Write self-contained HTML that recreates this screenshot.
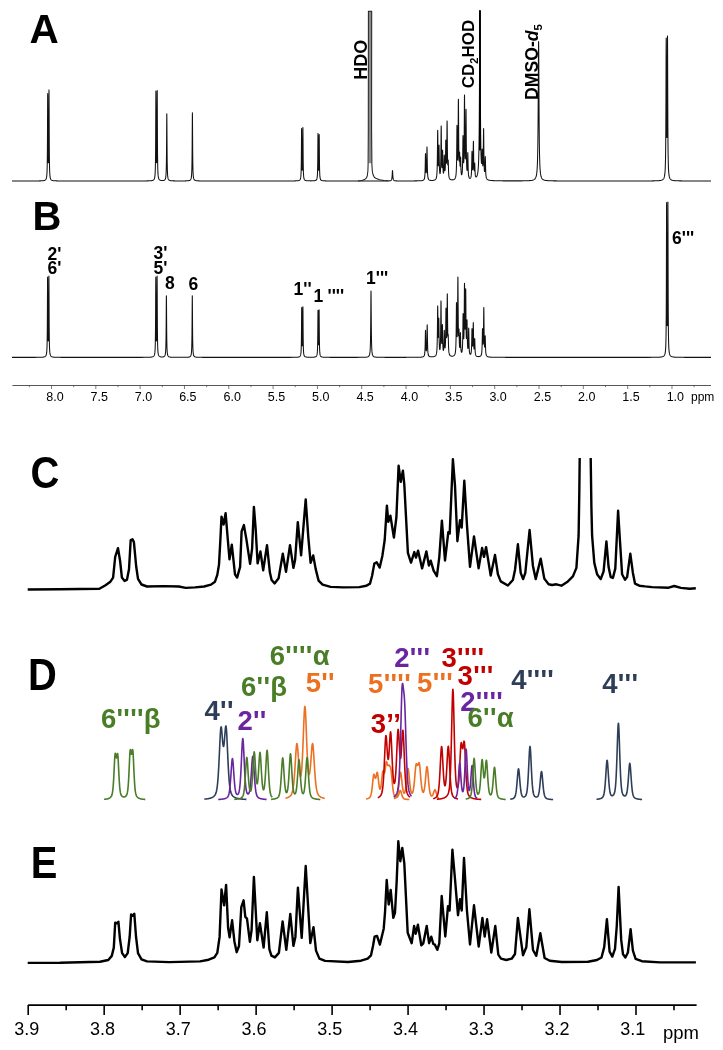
<!DOCTYPE html>
<html><head><meta charset="utf-8"><style>
html,body{margin:0;padding:0;background:#fff;}
svg{display:block;will-change:transform;}
text{font-family:"Liberation Sans",sans-serif;}
</style></head><body>
<svg width="723" height="1050" viewBox="0 0 723 1050">
<rect width="723" height="1050" fill="#fff"/>
<text x="29.6" y="42.5" font-size="40.5" font-weight="bold" fill="#000" text-anchor="start" >A</text>
<text x="32.6" y="229.9" font-size="40" font-weight="bold" fill="#000" text-anchor="start" >B</text>
<text transform="translate(30.6 487.8) scale(0.95 1.05)" font-size="42" font-weight="bold" fill="#000">C</text>
<text transform="translate(27.9 689.8) scale(0.95 1.05)" font-size="42" font-weight="bold" fill="#000">D</text>
<text transform="translate(30.8 877.5) scale(0.95 1.05)" font-size="42" font-weight="bold" fill="#000">E</text>
<path d="M12 180.99 L12.5 180.99 L13 180.99 L13.5 180.99 L14 180.99 L14.5 180.99 L15 180.99 L15.5 180.99 L16 180.99 L16.5 180.99 L17 180.99 L17.5 180.99 L18 180.99 L18.5 180.99 L19 180.99 L19.5 180.99 L20 180.99 L20.5 180.99 L21 180.99 L21.5 180.99 L22 180.99 L22.5 180.99 L23 180.99 L23.5 180.98 L24 180.98 L24.5 180.98 L25 180.98 L25.5 180.98 L26 180.98 L26.5 180.98 L27 180.98 L27.5 180.98 L28 180.98 L28.5 180.98 L29 180.98 L29.5 180.97 L30 180.97 L30.5 180.97 L31 180.97 L31.5 180.97 L32 180.97 L32.5 180.96 L33 180.96 L33.5 180.96 L34 180.96 L34.5 180.95 L35 180.95 L35.5 180.95 L36 180.94 L36.5 180.94 L37 180.93 L37.5 180.93 L38 180.92 L38.5 180.91 L39 180.9 L39.5 180.89 L40 180.88 L40.5 180.86 L41 180.84 L41.5 180.81 L42 180.78 L42.5 180.74 L43 180.69 L43.5 180.62 L44 180.53 L44.5 180.39 L44.77 180.28 L45 180.17 L45.5 179.81 L45.87 179.36 L46 179.12 L46.07 178.99 L46.23 178.57 L46.5 177.55 L46.53 177.41 L46.75 175.86 L46.8 175.33 L46.97 172.94 L47 172.29 L47.11 169.34 L47.17 167.36 L47.22 164.74 L47.33 157 L47.41 148.68 L47.48 136.66 L47.5 132.58 L47.53 125.1 L47.55 120.21 L47.59 110.87 L47.63 102.18 L47.66 95.97 L47.7 93.5 L47.74 95.7 L47.77 101.64 L47.81 110.04 L47.83 114.21 L47.85 119.1 L47.92 134.95 L47.99 146.3 L48 147.17 L48.05 152.13 L48.07 153.85 L48.18 160.17 L48.27 162.54 L48.29 162.81 L48.41 162.68 L48.43 162.36 L48.5 160.63 L48.52 159.76 L48.63 153.06 L48.65 151.26 L48.71 145.13 L48.78 133.24 L48.85 116.67 L48.87 111.56 L48.89 107.2 L48.93 98.42 L48.96 92.2 L49 89.9 L49.04 92.47 L49.07 98.94 L49.11 107.99 L49.15 117.73 L49.17 122.83 L49.22 134.89 L49.29 147.42 L49.37 156.09 L49.48 164.15 L49.5 165.35 L49.53 166.87 L49.59 168.93 L49.73 172.68 L49.9 175.15 L49.95 175.71 L50 176.13 L50.17 177.31 L50.47 178.51 L50.5 178.61 L50.63 178.94 L50.83 179.32 L51 179.56 L51.2 179.78 L51.5 180.03 L51.93 180.27 L52 180.3 L52.5 180.47 L53 180.58 L53.5 180.66 L54 180.72 L54.5 180.77 L55 180.8 L55.5 180.83 L56 180.85 L56.5 180.87 L57 180.88 L57.5 180.9 L58 180.91 L58.5 180.91 L59 180.92 L59.5 180.93 L60 180.93 L60.5 180.94 L61 180.94 L61.5 180.95 L62 180.95 L62.5 180.95 L63 180.96 L63.5 180.96 L64 180.96 L64.5 180.96 L65 180.97 L65.5 180.97 L66 180.97 L66.5 180.97 L67 180.97 L67.5 180.97 L68 180.98 L68.5 180.98 L69 180.98 L69.5 180.98 L70 180.98 L70.5 180.98 L71 180.98 L71.5 180.98 L72 180.98 L72.5 180.98 L73 180.98 L73.5 180.98 L74 180.98 L74.5 180.98 L75 180.98 L75.5 180.99 L76 180.99 L76.5 180.99 L77 180.99 L77.5 180.99 L78 180.99 L78.5 180.99 L79 180.99 L79.5 180.99 L80 180.99 L80.5 180.99 L81 180.99 L81.5 180.99 L82 180.99 L82.5 180.99 L83 180.99 L83.5 180.99 L84 180.99 L84.5 180.99 L85 180.99 L85.5 180.99 L86 180.99 L86.5 180.99 L87 180.99 L87.5 180.99 L88 180.99 L88.5 180.99 L89 180.99 L89.5 180.99 L90 180.99 L90.5 180.99 L91 180.99 L91.5 180.99 L92 180.99 L92.5 180.99 L93 180.99 L93.5 180.99 L94 180.99 L94.5 180.99 L95 180.99 L95.5 180.99 L96 180.99 L96.5 180.99 L97 180.99 L97.5 180.99 L98 180.99 L98.5 180.99 L99 180.99 L99.5 180.99 L100 180.99 L100.5 180.99 L101 180.99 L101.5 180.99 L102 180.99 L102.5 180.99 L103 180.99 L103.5 180.99 L104 180.99 L104.5 180.99 L105 180.99 L105.5 180.99 L106 180.99 L106.5 180.99 L107 180.99 L107.5 180.99 L108 180.99 L108.5 180.99 L109 180.99 L109.5 180.99 L110 180.99 L110.5 180.99 L111 180.99 L111.5 180.99 L112 180.99 L112.5 180.99 L113 180.99 L113.5 180.99 L114 180.99 L114.5 180.99 L115 180.99 L115.5 180.99 L116 180.99 L116.5 180.99 L117 180.99 L117.5 180.99 L118 180.99 L118.5 180.99 L119 180.99 L119.5 180.99 L120 180.99 L120.5 180.99 L121 180.99 L121.5 180.99 L122 180.99 L122.5 180.99 L123 180.99 L123.5 180.99 L124 180.99 L124.5 180.99 L125 180.99 L125.5 180.98 L126 180.98 L126.5 180.98 L127 180.98 L127.5 180.98 L128 180.98 L128.5 180.98 L129 180.98 L129.5 180.98 L130 180.98 L130.5 180.98 L131 180.98 L131.5 180.98 L132 180.98 L132.5 180.98 L133 180.98 L133.5 180.98 L134 180.98 L134.5 180.97 L135 180.97 L135.5 180.97 L136 180.97 L136.5 180.97 L137 180.97 L137.5 180.97 L138 180.97 L138.5 180.96 L139 180.96 L139.5 180.96 L140 180.96 L140.5 180.96 L141 180.95 L141.5 180.95 L142 180.95 L142.5 180.95 L143 180.94 L143.5 180.94 L144 180.93 L144.5 180.93 L145 180.92 L145.5 180.92 L146 180.91 L146.5 180.9 L147 180.89 L147.5 180.88 L148 180.87 L148.5 180.85 L149 180.83 L149.5 180.81 L150 180.78 L150.5 180.74 L151 180.69 L151.5 180.63 L152 180.54 L152.5 180.42 L152.97 180.25 L153 180.23 L153.5 179.93 L153.7 179.76 L154 179.4 L154.07 179.29 L154.27 178.92 L154.43 178.49 L154.5 178.28 L154.73 177.3 L154.95 175.71 L155 175.16 L155.17 172.71 L155.31 169 L155.37 166.97 L155.42 164.28 L155.5 159.19 L155.53 156.32 L155.61 147.76 L155.68 135.4 L155.73 123.51 L155.75 118.47 L155.79 108.86 L155.83 99.93 L155.86 93.54 L155.9 91 L155.94 93.27 L155.97 99.39 L156 105.57 L156.01 108.04 L156.03 112.33 L156.05 117.37 L156.12 133.7 L156.19 145.4 L156.25 151.41 L156.27 153.19 L156.38 159.74 L156.47 162.23 L156.49 162.53 L156.5 162.67 L156.61 162.51 L156.63 162.21 L156.72 159.68 L156.83 153.08 L156.85 151.29 L156.91 145.23 L156.98 133.46 L157 129.4 L157.05 117.03 L157.07 111.96 L157.09 107.65 L157.13 98.94 L157.16 92.78 L157.2 90.5 L157.24 93.05 L157.27 99.47 L157.31 108.46 L157.35 118.12 L157.37 123.18 L157.42 135.14 L157.49 147.58 L157.5 148.54 L157.57 156.18 L157.68 164.18 L157.73 166.89 L157.79 168.93 L157.93 172.65 L158 173.8 L158.1 175.11 L158.15 175.66 L158.37 177.26 L158.5 177.86 L158.67 178.44 L158.83 178.87 L159 179.19 L159.03 179.24 L159.4 179.7 L159.5 179.79 L160 180.11 L160.13 180.17 L160.5 180.3 L161 180.41 L161.5 180.48 L162 180.51 L162.5 180.52 L163 180.49 L163.47 180.43 L163.5 180.43 L164 180.3 L164.3 180.18 L164.5 180.07 L164.72 179.91 L165 179.6 L165.13 179.4 L165.47 178.6 L165.5 178.49 L165.72 177.49 L165.97 175.35 L166 174.92 L166.13 172.63 L166.26 169.13 L166.38 163.16 L166.47 156.71 L166.5 153.4 L166.55 147.35 L166.63 134.5 L166.68 127.22 L166.72 120.46 L166.76 115.64 L166.8 113.8 L166.84 115.64 L166.88 120.46 L166.93 127.22 L166.97 134.51 L167 139.99 L167.05 147.36 L167.13 156.72 L167.22 163.17 L167.34 169.14 L167.47 172.65 L167.5 173.33 L167.63 175.38 L167.88 177.53 L168 178.13 L168.13 178.65 L168.47 179.45 L168.5 179.51 L168.88 179.98 L169 180.08 L169.3 180.27 L169.5 180.37 L170 180.53 L170.13 180.57 L170.5 180.64 L171 180.71 L171.5 180.76 L172 180.8 L172.5 180.82 L173 180.85 L173.5 180.86 L174 180.88 L174.5 180.89 L175 180.9 L175.5 180.9 L176 180.91 L176.5 180.91 L177 180.92 L177.5 180.92 L178 180.92 L178.5 180.93 L179 180.93 L179.5 180.93 L180 180.93 L180.5 180.93 L181 180.93 L181.5 180.93 L182 180.93 L182.5 180.92 L183 180.92 L183.5 180.92 L184 180.91 L184.5 180.9 L185 180.9 L185.5 180.89 L186 180.87 L186.5 180.85 L187 180.83 L187.5 180.8 L188 180.76 L188.5 180.7 L189 180.61 L189.07 180.6 L189.5 180.48 L189.9 180.31 L190 180.25 L190.32 180.01 L190.5 179.82 L190.73 179.48 L191 178.87 L191.07 178.66 L191.32 177.53 L191.5 176.09 L191.57 175.34 L191.73 172.57 L191.86 169 L191.98 162.93 L192 161.8 L192.07 156.37 L192.15 146.84 L192.23 133.77 L192.28 126.36 L192.32 119.48 L192.36 114.57 L192.4 112.7 L192.44 114.57 L192.48 119.48 L192.5 122.12 L192.53 126.36 L192.57 133.77 L192.65 146.84 L192.73 156.37 L192.82 162.93 L192.94 169.01 L193 170.88 L193.07 172.57 L193.23 175.34 L193.48 177.53 L193.5 177.63 L193.73 178.66 L194 179.36 L194.07 179.48 L194.48 180.02 L194.5 180.03 L194.9 180.31 L195 180.36 L195.5 180.54 L195.73 180.6 L196 180.66 L196.5 180.73 L197 180.79 L197.5 180.82 L198 180.85 L198.5 180.87 L199 180.89 L199.5 180.9 L200 180.91 L200.5 180.92 L201 180.93 L201.5 180.94 L202 180.94 L202.5 180.95 L203 180.95 L203.5 180.96 L204 180.96 L204.5 180.96 L205 180.96 L205.5 180.97 L206 180.97 L206.5 180.97 L207 180.97 L207.5 180.97 L208 180.97 L208.5 180.97 L209 180.98 L209.5 180.98 L210 180.98 L210.5 180.98 L211 180.98 L211.5 180.98 L212 180.98 L212.5 180.98 L213 180.98 L213.5 180.98 L214 180.98 L214.5 180.98 L215 180.98 L215.5 180.98 L216 180.98 L216.5 180.98 L217 180.99 L217.5 180.99 L218 180.99 L218.5 180.99 L219 180.99 L219.5 180.99 L220 180.99 L220.5 180.99 L221 180.99 L221.5 180.99 L222 180.99 L222.5 180.99 L223 180.99 L223.5 180.99 L224 180.99 L224.5 180.99 L225 180.99 L225.5 180.99 L226 180.99 L226.5 180.99 L227 180.99 L227.5 180.99 L228 180.99 L228.5 180.99 L229 180.99 L229.5 180.99 L230 180.99 L230.5 180.99 L231 180.99 L231.5 180.99 L232 180.99 L232.5 180.99 L233 180.99 L233.5 180.99 L234 180.99 L234.5 180.99 L235 180.99 L235.5 180.99 L236 180.99 L236.5 180.99 L237 180.99 L237.5 180.99 L238 180.99 L238.5 180.99 L239 180.99 L239.5 180.99 L240 180.99 L240.5 180.99 L241 180.99 L241.5 180.99 L242 180.99 L242.5 180.99 L243 180.99 L243.5 180.99 L244 180.99 L244.5 180.99 L245 180.99 L245.5 180.99 L246 180.99 L246.5 180.99 L247 180.99 L247.5 180.99 L248 180.99 L248.5 180.99 L249 180.99 L249.5 180.99 L250 180.99 L250.5 180.99 L251 180.99 L251.5 180.99 L252 180.99 L252.5 180.99 L253 180.99 L253.5 180.99 L254 180.99 L254.5 180.99 L255 180.99 L255.5 180.99 L256 180.99 L256.5 180.99 L257 180.99 L257.5 180.99 L258 180.99 L258.5 180.99 L259 180.99 L259.5 180.99 L260 180.99 L260.5 180.99 L261 180.99 L261.5 180.99 L262 180.99 L262.5 180.99 L263 180.99 L263.5 180.99 L264 180.99 L264.5 180.99 L265 180.99 L265.5 180.99 L266 180.99 L266.5 180.99 L267 180.99 L267.5 180.99 L268 180.99 L268.5 180.99 L269 180.99 L269.5 180.99 L270 180.99 L270.5 180.99 L271 180.99 L271.5 180.99 L272 180.99 L272.5 180.99 L273 180.99 L273.5 180.99 L274 180.99 L274.5 180.99 L275 180.99 L275.5 180.98 L276 180.98 L276.5 180.98 L277 180.98 L277.5 180.98 L278 180.98 L278.5 180.98 L279 180.98 L279.5 180.98 L280 180.98 L280.5 180.98 L281 180.98 L281.5 180.98 L282 180.98 L282.5 180.98 L283 180.98 L283.5 180.98 L284 180.98 L284.5 180.97 L285 180.97 L285.5 180.97 L286 180.97 L286.5 180.97 L287 180.97 L287.5 180.97 L288 180.96 L288.5 180.96 L289 180.96 L289.5 180.96 L290 180.96 L290.5 180.95 L291 180.95 L291.5 180.94 L292 180.94 L292.5 180.93 L293 180.93 L293.5 180.92 L294 180.91 L294.5 180.9 L295 180.89 L295.5 180.87 L296 180.85 L296.5 180.83 L297 180.8 L297.5 180.75 L298 180.69 L298.5 180.6 L298.67 180.56 L299 180.45 L299.4 180.27 L299.5 180.21 L299.77 180 L299.97 179.78 L300 179.74 L300.13 179.53 L300.43 178.84 L300.5 178.58 L300.65 177.91 L300.7 177.59 L300.87 176.16 L301 174.24 L301.01 174 L301.07 172.81 L301.12 171.24 L301.23 166.6 L301.31 161.61 L301.38 154.4 L301.43 147.46 L301.45 144.52 L301.49 138.92 L301.5 137.43 L301.53 133.71 L301.56 129.98 L301.6 128.5 L301.64 129.82 L301.67 133.39 L301.71 138.43 L301.73 140.93 L301.75 143.87 L301.82 153.39 L301.89 160.21 L301.95 163.71 L301.97 164.74 L302 166.19 L302.08 168.55 L302.17 169.99 L302.19 170.16 L302.31 170.12 L302.33 169.94 L302.42 168.43 L302.5 165.99 L302.53 164.5 L302.55 163.44 L302.61 159.85 L302.68 152.87 L302.75 143.13 L302.77 140.12 L302.79 137.57 L302.83 132.4 L302.86 128.75 L302.9 127.4 L302.94 128.91 L302.97 132.72 L303 136.52 L303.01 138.04 L303.05 143.77 L303.07 146.76 L303.12 153.85 L303.19 161.22 L303.27 166.31 L303.38 171.06 L303.43 172.66 L303.49 173.87 L303.5 174.12 L303.63 176.07 L303.8 177.53 L303.85 177.85 L304 178.54 L304.07 178.8 L304.37 179.5 L304.5 179.71 L304.53 179.76 L304.73 179.98 L305 180.19 L305.1 180.25 L305.5 180.43 L305.83 180.54 L306 180.58 L306.5 180.67 L307 180.73 L307.5 180.77 L308 180.8 L308.5 180.82 L309 180.83 L309.5 180.84 L310 180.85 L310.5 180.85 L311 180.85 L311.5 180.84 L312 180.84 L312.5 180.82 L313 180.8 L313.5 180.78 L314 180.74 L314.5 180.68 L315 180.59 L315.07 180.58 L315.5 180.45 L315.8 180.32 L316 180.2 L316.17 180.08 L316.27 179.98 L316.5 179.7 L316.53 179.65 L316.83 179.02 L317 178.4 L317.05 178.17 L317.27 176.58 L317.37 175.36 L317.41 174.62 L317.5 172.75 L317.52 172.12 L317.63 167.91 L317.71 163.39 L317.73 161.34 L317.78 156.86 L317.85 147.93 L317.89 142.85 L317.93 138.13 L317.96 134.75 L318 133.4 L318.03 134.02 L318.04 134.58 L318.07 137.79 L318.11 142.32 L318.15 147.21 L318.22 155.76 L318.25 158.3 L318.29 161.85 L318.37 165.85 L318.47 168.88 L318.48 169.07 L318.5 169.45 L318.59 170.16 L318.61 170.17 L318.72 169.18 L318.73 168.99 L318.83 166.08 L318.91 162.2 L318.95 158.75 L318.98 156.27 L319 154.22 L319.05 147.95 L319.09 143.19 L319.13 138.77 L319.16 135.64 L319.17 135.1 L319.2 134.5 L319.24 135.82 L319.27 139.12 L319.31 143.73 L319.35 148.68 L319.42 157.41 L319.47 161.77 L319.49 163.78 L319.5 164.28 L319.57 168.19 L319.68 172.31 L319.79 174.75 L319.83 175.47 L319.93 176.67 L320 177.26 L320.15 178.22 L320.2 178.44 L320.37 179.06 L320.5 179.37 L320.67 179.68 L320.93 180.01 L321 180.07 L321.03 180.1 L321.4 180.34 L321.5 180.39 L322 180.56 L322.13 180.6 L322.5 180.67 L323 180.74 L323.5 180.79 L324 180.83 L324.5 180.85 L325 180.87 L325.5 180.89 L326 180.9 L326.5 180.91 L327 180.92 L327.5 180.93 L328 180.93 L328.5 180.94 L329 180.94 L329.5 180.95 L330 180.95 L330.5 180.95 L331 180.96 L331.5 180.96 L332 180.96 L332.5 180.96 L333 180.96 L333.5 180.97 L334 180.97 L334.5 180.97 L335 180.97 L335.5 180.97 L336 180.97 L336.5 180.97 L337 180.97 L337.5 180.97 L338 180.97 L338.5 180.98 L339 180.98 L339.5 180.98 L340 180.98 L340.5 180.98 L341 180.98 L341.5 180.98 L342 180.98 L342.5 180.98 L343 180.98 L343.5 180.98 L344 180.98 L344.5 180.98 L345 180.98 L345.5 180.98 L346 180.98 L346.5 180.98 L347 180.98 L347.5 180.98 L348 180.98 L348.5 180.98 L349 180.98 L349.5 180.98 L350 180.98 L350.5 180.98 L351 180.98 L351.5 180.98 L352 180.98 L352.5 180.98 L353 180.98 L353.5 180.98 L354 180.98 L354.5 180.98 L355 180.98 L355.5 180.98 L356 180.98 L356.5 180.98 L357 180.98 L357.5 180.98 L358 180.98 L358.5 180.98 L359 180.98 L359.5 180.98 L360 180.98 L360.5 180.98 L361 180.98 L361.5 180.98 L362 180.98 L362.5 180.98 L363 180.98 L363.5 180.98 L364 180.98 L364.5 180.98 L365 180.98 L365.5 180.98 L366 180.98 L366.5 180.98 L367 180.98 L367.5 180.98 L368 180.98 L368.5 180.98 L369 180.98 L369.5 180.98 L370 180.98 L370.5 180.98 L371 180.98 L371.5 180.98 L372 180.98 L372.5 180.98 L373 180.98 L373.5 180.98 L374 180.98 L374.5 180.98 L375 180.97 L375.5 180.97 L376 180.97 L376.5 180.97 L377 180.97 L377.5 180.97 L378 180.97 L378.5 180.97 L379 180.97 L379.5 180.97 L380 180.97 L380.5 180.97 L381 180.97 L381.5 180.97 L382 180.96 L382.5 180.96 L383 180.96 L383.5 180.96 L384 180.96 L384.5 180.95 L385 180.95 L385.5 180.95 L386 180.94 L386.5 180.94 L387 180.93 L387.5 180.92 L387.83 180.91 L388 180.91 L388.5 180.89 L389 180.87 L389.5 180.83 L389.58 180.82 L390 180.77 L390.17 180.74 L390.5 180.66 L390.63 180.61 L390.98 180.44 L391 180.43 L391.33 180.1 L391.5 179.83 L391.57 179.68 L391.74 179.13 L391.92 178.2 L392 177.53 L392.03 177.2 L392.15 175.73 L392.27 173.71 L392.32 172.59 L392.38 171.55 L392.44 170.78 L392.5 170.5 L392.56 170.78 L392.62 171.55 L392.68 172.59 L392.73 173.71 L392.85 175.73 L392.97 177.2 L393 177.52 L393.08 178.19 L393.26 179.13 L393.43 179.68 L393.5 179.82 L393.67 180.1 L394 180.43 L394.02 180.44 L394.37 180.61 L394.5 180.65 L394.83 180.73 L395 180.76 L395.42 180.82 L395.5 180.82 L396 180.86 L396.5 180.88 L397 180.9 L397.17 180.9 L397.5 180.91 L398 180.92 L398.5 180.92 L399 180.93 L399.5 180.93 L400 180.93 L400.5 180.94 L401 180.94 L401.5 180.94 L402 180.94 L402.5 180.94 L403 180.94 L403.5 180.94 L404 180.94 L404.5 180.94 L405 180.94 L405.5 180.94 L406 180.94 L406.5 180.94 L407 180.93 L407.5 180.93 L408 180.93 L408.5 180.93 L409 180.93 L409.5 180.93 L410 180.92 L410.5 180.92 L411 180.92 L411.5 180.92 L412 180.91 L412.5 180.91 L413 180.91 L413.5 180.9 L414 180.9 L414.5 180.89 L415 180.89 L415.5 180.88 L416 180.88 L416.5 180.87 L417 180.86 L417.5 180.85 L418 180.84 L418.5 180.83 L419 180.81 L419.5 180.79 L420 180.77 L420.5 180.74 L421 180.7 L421.5 180.65 L422 180.58 L422.5 180.48 L423 180.33 L423.5 180.06 L423.9 179.68 L424 179.54 L424.2 179.18 L424.5 178.24 L424.7 177.1 L424.85 175.65 L425 173.23 L425.1 170.67 L425.2 166.92 L425.3 161.8 L425.35 158.93 L425.4 156.26 L425.45 154.28 L425.5 153.5 L425.55 154.12 L425.6 155.93 L425.65 158.43 L425.7 161.12 L425.8 165.87 L425.9 169.18 L426 171.22 L426.15 172.61 L426.2 172.73 L426.3 172.51 L426.35 172.17 L426.5 169.97 L426.6 167.18 L426.7 162.84 L426.8 156.72 L426.85 153.26 L426.9 150.05 L426.95 147.72 L427 146.9 L427.05 147.85 L427.1 150.31 L427.15 153.65 L427.2 157.24 L427.3 163.65 L427.4 168.33 L427.5 171.53 L427.65 174.53 L427.8 176.31 L428 177.71 L428.3 178.83 L428.5 179.26 L428.6 179.43 L429 179.86 L429.5 180.14 L430 180.29 L430.5 180.38 L431 180.42 L431.5 180.44 L432 180.43 L432.5 180.41 L433 180.37 L433.5 180.3 L433.7 180.26 L434 180.2 L434.5 180.05 L434.7 179.97 L435 179.82 L435.2 179.69 L435.5 179.44 L435.7 179.22 L436 178.74 L436.1 178.52 L436.4 177.61 L436.5 177.16 L436.7 175.9 L436.9 173.8 L437 172.18 L437.05 171.15 L437.2 166.69 L437.3 161.96 L437.4 155.06 L437.5 145.6 L437.55 140.31 L437.6 135.37 L437.65 131.73 L437.7 130.3 L437.75 131.47 L437.8 134.83 L437.85 139.49 L437.9 144.5 L438 153.32 L438.1 159.48 L438.2 163.3 L438.35 165.85 L438.5 165.44 L438.6 163.45 L438.7 159.74 L438.8 154.14 L438.85 150.91 L438.9 147.9 L438.95 145.73 L439 145 L439.05 145.98 L439.1 148.42 L439.15 151.7 L439.2 155.21 L439.3 161.45 L439.4 165.95 L439.5 168.97 L439.6 170.95 L439.65 171.66 L439.7 172.23 L439.8 173.04 L439.9 173.49 L440 173.65 L440.1 173.56 L440.2 173.2 L440.3 172.56 L440.4 171.54 L440.5 170.03 L440.55 169.02 L440.6 167.79 L440.7 164.48 L440.8 159.54 L440.9 152.23 L441 142.14 L441.05 136.49 L441.1 131.22 L441.15 127.37 L441.2 125.9 L441.25 127.25 L441.3 130.99 L441.35 136.13 L441.4 141.66 L441.5 151.46 L441.6 158.44 L441.7 162.96 L441.8 165.72 L441.85 166.6 L441.95 167.54 L442 167.65 L442.1 167.1 L442.2 165.42 L442.3 162.31 L442.4 157.63 L442.45 154.94 L442.5 152.42 L442.55 150.6 L442.6 150 L442.65 150.83 L442.7 152.87 L442.75 155.62 L442.8 158.56 L442.9 163.78 L443 167.53 L443.1 170.01 L443.2 171.6 L443.25 172.15 L443.3 172.57 L443.4 173.07 L443.5 173.2 L443.6 172.96 L443.65 172.69 L443.7 172.3 L443.8 171.11 L443.9 169.15 L444 166.14 L444.1 161.92 L444.15 159.52 L444.2 157.29 L444.25 155.64 L444.3 155 L444.35 155.54 L444.4 157.09 L444.45 159.22 L444.5 161.5 L444.6 165.49 L444.7 168.23 L444.8 169.85 L444.95 170.75 L445 170.73 L445.1 170.21 L445.15 169.7 L445.2 169 L445.3 166.92 L445.4 163.61 L445.5 158.57 L445.6 151.55 L445.65 147.58 L445.7 143.87 L445.75 141.12 L445.8 140 L445.85 140.81 L445.9 143.26 L445.95 146.66 L446 150.29 L446.1 156.57 L446.2 160.71 L446.3 162.89 L446.45 163.19 L446.5 162.56 L446.6 160.06 L446.7 155.51 L446.8 148.21 L446.9 137.79 L446.95 131.88 L447 126.37 L447.05 122.35 L447.1 120.9 L447.15 122.46 L447.2 126.59 L447.25 132.21 L447.3 138.23 L447.4 148.87 L447.5 156.41 L447.55 159.1 L447.6 161.19 L447.7 163.92 L447.75 164.67 L447.8 165.03 L447.9 164.69 L448 163.03 L448.05 161.88 L448.1 160.78 L448.15 160.05 L448.2 160 L448.25 160.77 L448.3 162.23 L448.35 164.08 L448.4 166.03 L448.5 169.5 L448.6 172.07 L448.7 173.87 L448.8 175.14 L448.85 175.63 L449 176.74 L449.1 177.26 L449.2 177.67 L449.5 178.49 L449.6 178.67 L449.8 178.97 L450 179.18 L450.1 179.27 L450.2 179.35 L450.5 179.53 L450.7 179.62 L451 179.72 L451.1 179.74 L451.2 179.77 L451.5 179.82 L452 179.86 L452.2 179.86 L452.5 179.85 L453 179.79 L453.5 179.68 L454 179.48 L454.4 179.24 L454.5 179.16 L455 178.6 L455.4 177.79 L455.5 177.49 L455.6 177.15 L455.7 176.73 L455.9 175.59 L456 174.8 L456.2 172.46 L456.35 169.54 L456.4 168.2 L456.5 164.68 L456.6 159.55 L456.7 152.1 L456.8 141.92 L456.85 136.21 L456.9 130.88 L456.95 126.92 L457 125.3 L457.05 126.43 L457.1 129.88 L457.15 134.69 L457.2 139.86 L457.3 148.88 L457.4 154.98 L457.5 158.47 L457.6 159.93 L457.65 160.02 L457.75 158.97 L457.8 157.79 L457.9 153.9 L458 147.34 L458.1 137.1 L458.2 122.66 L458.25 114.49 L458.3 106.89 L458.35 101.34 L458.4 99.3 L458.45 101.4 L458.5 107.02 L458.55 114.69 L458.6 122.92 L458.7 137.51 L458.8 147.9 L458.9 154.63 L458.95 156.95 L459 158.7 L459.05 159.96 L459.1 160.78 L459.2 161.18 L459.3 159.93 L459.4 157.09 L459.45 155.28 L459.5 153.55 L459.55 152.32 L459.6 152 L459.65 152.76 L459.7 154.44 L459.75 156.62 L459.8 158.91 L459.9 162.8 L459.95 164.21 L460 165.25 L460.1 166.32 L460.2 166.11 L460.25 165.52 L460.3 164.59 L460.4 161.77 L460.45 160.06 L460.5 158.44 L460.55 157.3 L460.6 157 L460.65 157.69 L460.7 159.22 L460.75 161.24 L460.8 163.38 L460.9 167.18 L461 169.94 L461.1 171.8 L461.2 173.04 L461.25 173.49 L461.4 174.37 L461.5 174.68 L461.6 174.82 L461.7 174.81 L461.9 174.38 L462 173.93 L462.1 173.27 L462.2 172.33 L462.35 170.16 L462.4 169.14 L462.5 166.42 L462.6 162.43 L462.7 156.59 L462.8 148.58 L462.85 144.09 L462.9 139.9 L462.95 136.78 L463 135.5 L463.05 136.38 L463.1 139.1 L463.15 142.88 L463.2 146.94 L463.3 154.03 L463.4 158.81 L463.5 161.54 L463.6 162.69 L463.65 162.77 L463.7 162.54 L463.8 161.17 L463.85 159.97 L464 153.72 L464.1 146.4 L464.2 135.31 L464.3 119.87 L464.35 111.17 L464.4 103.08 L464.45 97.14 L464.5 94.9 L464.55 97.01 L464.6 102.82 L464.65 110.78 L464.7 119.34 L464.8 134.48 L464.9 145.22 L465 152.13 L465.15 157.56 L465.2 158.4 L465.3 158.9 L465.35 158.56 L465.5 154.92 L465.6 149.65 L465.7 141.13 L465.8 128.94 L465.85 122.02 L465.9 115.58 L465.95 110.92 L466 109.3 L466.05 111.27 L466.1 116.29 L466.15 123.1 L466.2 130.4 L466.3 143.41 L466.4 152.87 L466.5 159.27 L466.65 165.15 L466.8 168.38 L467 170.3 L467.15 170.38 L467.3 169.13 L467.4 167.25 L467.5 164.15 L467.6 159.68 L467.65 157.13 L467.7 154.76 L467.75 153.06 L467.8 152.5 L467.85 153.29 L467.9 155.22 L467.95 157.83 L468 160.62 L468.1 165.6 L468.2 169.25 L468.3 171.76 L468.45 174.15 L468.5 174.71 L468.6 175.58 L468.8 176.72 L469 177.4 L469.1 177.64 L469.4 178.1 L469.5 178.19 L469.8 178.35 L470 178.36 L470.3 178.24 L470.4 178.16 L470.5 178.05 L470.7 177.72 L470.8 177.49 L470.9 177.2 L471 176.81 L471.2 175.65 L471.35 174.16 L471.4 173.48 L471.5 171.67 L471.6 169.03 L471.7 165.17 L471.8 159.89 L471.85 156.94 L471.9 154.18 L471.95 152.13 L472 151.3 L472.05 151.9 L472.1 153.72 L472.15 156.24 L472.2 158.95 L472.3 163.68 L472.4 166.91 L472.5 168.8 L472.6 169.64 L472.65 169.74 L472.7 169.64 L472.75 169.34 L472.8 168.82 L472.9 167.03 L473 163.96 L473.1 159.15 L473.2 152.33 L473.25 148.47 L473.3 144.88 L473.35 142.26 L473.4 141.3 L473.45 142.3 L473.5 144.96 L473.55 148.59 L473.6 152.49 L473.7 159.4 L473.8 164.32 L473.9 167.51 L474 169.46 L474.05 170.07 L474.2 170.75 L474.3 170.26 L474.4 168.92 L474.5 166.69 L474.55 165.37 L474.6 164.13 L474.65 163.25 L474.7 163 L474.75 163.5 L474.8 164.63 L474.85 166.13 L474.9 167.72 L475 170.56 L475.1 172.63 L475.2 174.05 L475.35 175.36 L475.4 175.66 L475.5 176.12 L475.7 176.66 L475.9 176.9 L476 176.95 L476.15 176.96 L476.3 176.91 L476.4 176.84 L476.5 176.74 L476.7 176.48 L476.9 176.11 L477 175.88 L477.2 175.33 L477.4 174.61 L477.5 174.18 L477.7 173.13 L477.95 171.33 L478 170.89 L478.2 168.74 L478.4 165.75 L478.5 163.81 L478.7 158.62 L478.93 149.45 L479 145.17 L479.15 133.83 L479.2 128.98 L479.3 117.14 L479.45 92.61 L479.5 82.35 L479.6 58.93 L479.68 40.07 L479.7 33.93 L479.75 22.55 L479.82 10.6 L479.9 10.6 L479.98 10.6 L480 13.18 L480.05 22.42 L480.12 39.87 L480.2 58.65 L480.35 92.18 L480.5 116.53 L480.6 128.23 L480.65 133.02 L480.88 148.23 L480.9 149.44 L481 153.58 L481.1 156.8 L481.2 159.29 L481.3 161.16 L481.4 162.49 L481.5 163.29 L481.55 163.49 L481.6 163.53 L481.7 163.1 L481.8 161.77 L481.85 160.69 L481.9 159.27 L482 155.42 L482.05 153.18 L482.1 151.09 L482.15 149.58 L482.2 149.1 L482.25 149.82 L482.3 151.57 L482.35 153.9 L482.4 156.37 L482.5 160.67 L482.6 163.58 L482.7 165.24 L482.8 165.87 L482.85 165.85 L482.9 165.6 L482.95 165.13 L483 164.39 L483.1 162 L483.2 157.98 L483.3 151.69 L483.4 142.79 L483.45 137.76 L483.5 133.08 L483.55 129.69 L483.6 128.5 L483.65 129.89 L483.7 133.49 L483.75 138.37 L483.8 143.61 L483.9 152.95 L484 159.72 L484.1 164.29 L484.2 167.33 L484.25 168.43 L484.3 169.33 L484.4 170.61 L484.5 171.34 L484.6 171.6 L484.65 171.55 L484.7 171.37 L484.8 170.57 L484.9 169 L485 166.39 L485.1 162.59 L485.15 160.42 L485.2 158.41 L485.25 156.96 L485.3 156.5 L485.35 157.19 L485.4 158.86 L485.45 161.1 L485.5 163.5 L485.6 167.8 L485.7 170.95 L485.8 173.13 L485.9 174.63 L485.95 175.21 L486 175.7 L486.1 176.48 L486.2 177.07 L486.3 177.53 L486.5 178.18 L486.6 178.42 L486.9 178.94 L487 179.07 L487.3 179.37 L487.5 179.52 L487.6 179.59 L487.8 179.7 L488 179.8 L488.3 179.93 L488.5 179.99 L489 180.14 L489.3 180.2 L489.5 180.24 L490 180.33 L490.5 180.4 L491 180.46 L491.5 180.5 L492 180.55 L492.5 180.58 L493 180.61 L493.5 180.64 L494 180.66 L494.5 180.68 L495 180.7 L495.5 180.72 L496 180.74 L496.5 180.75 L497 180.76 L497.5 180.77 L498 180.78 L498.5 180.79 L499 180.8 L499.5 180.81 L500 180.82 L500.5 180.82 L501 180.83 L501.5 180.84 L502 180.84 L502.5 180.85 L503 180.85 L503.5 180.85 L504 180.86 L504.5 180.86 L505 180.87 L505.5 180.87 L506 180.87 L506.5 180.87 L507 180.88 L507.5 180.88 L508 180.88 L508.5 180.88 L509 180.88 L509.5 180.88 L510 180.89 L510.5 180.89 L511 180.89 L511.5 180.89 L512 180.89 L512.5 180.89 L513 180.89 L513.5 180.89 L514 180.89 L514.5 180.89 L515 180.89 L515.5 180.89 L516 180.89 L516.5 180.89 L517 180.88 L517.5 180.88 L518 180.88 L518.5 180.88 L519 180.88 L519.5 180.87 L520 180.87 L520.5 180.87 L521 180.86 L521.5 180.86 L522 180.85 L522.5 180.85 L523 180.84 L523.5 180.83 L524 180.83 L524.5 180.82 L525 180.81 L525.5 180.8 L526 180.78 L526.5 180.77 L527 180.75 L527.5 180.73 L528 180.71 L528.5 180.69 L529 180.66 L529.5 180.63 L530 180.59 L530.5 180.54 L531 180.48 L531.5 180.41 L532 180.32 L532.5 180.21 L532.6 180.19 L533 180.08 L533.5 179.89 L534 179.65 L534.1 179.59 L534.5 179.31 L534.85 178.99 L535 178.83 L535.5 178.09 L535.6 177.9 L536 176.92 L536.2 176.24 L536.5 174.85 L536.65 173.92 L537 170.75 L537.1 169.46 L537.4 163.78 L537.5 160.98 L537.62 156.48 L537.85 144.05 L538 130.76 L538.15 111.24 L538.3 84.41 L538.38 69.39 L538.45 55.45 L538.5 48.06 L538.52 45.27 L538.6 41.5 L538.67 45.27 L538.75 55.45 L538.83 69.4 L538.9 84.42 L539 103.06 L539.05 111.24 L539.2 130.76 L539.35 144.06 L539.5 153.08 L539.58 156.48 L539.8 163.78 L540 167.91 L540.1 169.46 L540.5 173.57 L540.55 173.92 L541 176.24 L541.5 177.7 L541.6 177.91 L542 178.58 L542.35 179 L542.5 179.14 L543 179.53 L543.1 179.6 L543.5 179.81 L544 180.02 L544.5 180.17 L544.6 180.2 L545 180.29 L545.5 180.39 L546 180.46 L546.5 180.53 L547 180.58 L547.5 180.62 L548 180.66 L548.5 180.69 L549 180.72 L549.5 180.74 L550 180.76 L550.5 180.78 L551 180.8 L551.5 180.81 L552 180.82 L552.5 180.84 L553 180.85 L553.5 180.85 L554 180.86 L554.5 180.87 L555 180.88 L555.5 180.88 L556 180.89 L556.5 180.89 L557 180.9 L557.5 180.9 L558 180.91 L558.5 180.91 L559 180.92 L559.5 180.92 L560 180.92 L560.5 180.93 L561 180.93 L561.5 180.93 L562 180.93 L562.5 180.94 L563 180.94 L563.5 180.94 L564 180.94 L564.5 180.94 L565 180.94 L565.5 180.95 L566 180.95 L566.5 180.95 L567 180.95 L567.5 180.95 L568 180.95 L568.5 180.95 L569 180.96 L569.5 180.96 L570 180.96 L570.5 180.96 L571 180.96 L571.5 180.96 L572 180.96 L572.5 180.96 L573 180.96 L573.5 180.96 L574 180.96 L574.5 180.97 L575 180.97 L575.5 180.97 L576 180.97 L576.5 180.97 L577 180.97 L577.5 180.97 L578 180.97 L578.5 180.97 L579 180.97 L579.5 180.97 L580 180.97 L580.5 180.97 L581 180.97 L581.5 180.97 L582 180.97 L582.5 180.97 L583 180.97 L583.5 180.97 L584 180.97 L584.5 180.97 L585 180.98 L585.5 180.98 L586 180.98 L586.5 180.98 L587 180.98 L587.5 180.98 L588 180.98 L588.5 180.98 L589 180.98 L589.5 180.98 L590 180.98 L590.5 180.98 L591 180.98 L591.5 180.98 L592 180.98 L592.5 180.98 L593 180.98 L593.5 180.98 L594 180.98 L594.5 180.98 L595 180.98 L595.5 180.98 L596 180.98 L596.5 180.98 L597 180.98 L597.5 180.98 L598 180.98 L598.5 180.98 L599 180.98 L599.5 180.98 L600 180.98 L600.5 180.98 L601 180.98 L601.5 180.98 L602 180.98 L602.5 180.98 L603 180.98 L603.5 180.98 L604 180.98 L604.5 180.98 L605 180.98 L605.5 180.98 L606 180.98 L606.5 180.98 L607 180.98 L607.5 180.98 L608 180.98 L608.5 180.98 L609 180.98 L609.5 180.98 L610 180.98 L610.5 180.98 L611 180.98 L611.5 180.98 L612 180.98 L612.5 180.98 L613 180.98 L613.5 180.98 L614 180.98 L614.5 180.98 L615 180.98 L615.5 180.98 L616 180.98 L616.5 180.98 L617 180.98 L617.5 180.98 L618 180.98 L618.5 180.98 L619 180.98 L619.5 180.98 L620 180.98 L620.5 180.98 L621 180.98 L621.5 180.98 L622 180.98 L622.5 180.98 L623 180.98 L623.5 180.98 L624 180.98 L624.5 180.98 L625 180.98 L625.5 180.98 L626 180.98 L626.5 180.98 L627 180.98 L627.5 180.98 L628 180.98 L628.5 180.98 L629 180.98 L629.5 180.98 L630 180.98 L630.5 180.98 L631 180.98 L631.5 180.97 L632 180.97 L632.5 180.97 L633 180.97 L633.5 180.97 L634 180.97 L634.5 180.97 L635 180.97 L635.5 180.97 L636 180.97 L636.5 180.97 L637 180.97 L637.5 180.97 L638 180.97 L638.5 180.97 L639 180.97 L639.5 180.96 L640 180.96 L640.5 180.96 L641 180.96 L641.5 180.96 L642 180.96 L642.5 180.96 L643 180.96 L643.5 180.95 L644 180.95 L644.5 180.95 L645 180.95 L645.5 180.95 L646 180.94 L646.5 180.94 L647 180.94 L647.5 180.94 L648 180.93 L648.5 180.93 L649 180.93 L649.5 180.92 L650 180.92 L650.5 180.91 L651 180.91 L651.5 180.9 L652 180.9 L652.5 180.89 L653 180.88 L653.5 180.87 L654 180.86 L654.5 180.85 L655 180.84 L655.5 180.83 L656 180.81 L656.5 180.79 L657 180.77 L657.5 180.74 L658 180.71 L658.5 180.68 L659 180.64 L659.5 180.59 L660 180.52 L660.5 180.44 L661 180.34 L661.5 180.21 L662 180.03 L662.47 179.8 L662.5 179.78 L663 179.42 L663.4 178.99 L663.5 178.86 L663.77 178.43 L663.87 178.23 L664 177.93 L664.33 176.91 L664.5 176.18 L664.7 175.01 L664.71 174.96 L664.99 172.37 L665 172.21 L665.17 169.66 L665.27 167.54 L665.45 161.59 L665.5 159.45 L665.59 154.05 L665.63 151.11 L665.73 141.41 L665.83 127.89 L665.92 108.35 L666 85.71 L666.01 83.51 L666.01 81.61 L666.06 66.46 L666.11 52.36 L666.15 42.15 L666.2 38 L666.25 41.3 L666.29 49.18 L666.29 50.66 L666.34 63.88 L666.39 78.09 L666.48 102.84 L666.5 107.18 L666.57 119.16 L666.57 120.06 L666.67 130.7 L666.75 135.95 L666.81 137.48 L666.89 137.4 L666.95 135.77 L667 132.87 L667.03 130.34 L667.13 119.45 L667.13 118.54 L667.22 101.89 L667.31 76.71 L667.36 62.24 L667.41 48.79 L667.41 47.28 L667.45 39.27 L667.5 35.9 L667.55 40.11 L667.59 50.47 L667.64 64.79 L667.69 80.16 L667.69 82.1 L667.78 107.31 L667.87 127.16 L667.97 140.88 L668 144.57 L668.07 150.73 L668.11 153.71 L668.25 161.36 L668.43 167.39 L668.5 168.89 L668.53 169.54 L668.71 172.28 L668.99 174.91 L669 174.96 L669.37 176.88 L669.5 177.34 L669.83 178.21 L669.93 178.41 L670 178.53 L670.3 178.98 L670.5 179.22 L671 179.65 L671.23 179.8 L671.5 179.94 L672 180.14 L672.5 180.29 L673 180.4 L673.5 180.49 L674 180.56 L674.5 180.62 L675 180.66 L675.5 180.7 L676 180.73 L676.5 180.76 L677 180.78 L677.5 180.8 L678 180.82 L678.5 180.83 L679 180.85 L679.5 180.86 L680 180.87 L680.5 180.88 L681 180.89 L681.5 180.89 L682 180.9 L682.5 180.91 L683 180.91 L683.5 180.92 L684 180.92 L684.5 180.93 L685 180.93 L685.5 180.93 L686 180.94 L686.5 180.94 L687 180.94 L687.5 180.95 L688 180.95 L688.5 180.95 L689 180.95 L689.5 180.95 L690 180.96 L690.5 180.96 L691 180.96 L691.5 180.96 L692 180.96 L692.5 180.96 L693 180.96 L693.5 180.97 L694 180.97 L694.5 180.97 L695 180.97 L695.5 180.97 L696 180.97 L696.5 180.97 L697 180.97 L697.5 180.97 L698 180.97 L698.5 180.97 L699 180.98 L699.5 180.98 L700 180.98 L700.5 180.98 L701 180.98 L701.5 180.98 L702 180.98 L702.5 180.98 L703 180.98 L703.5 180.98 L704 180.98 L704.5 180.98 L705 180.98 L705.5 180.98 L706 180.98 L706.5 180.98 L707 180.98 L707.5 180.98 L708 180.98 L708.5 180.98 L709 180.98 L709.5 180.99 L710 180.99 L710.5 180.99 L711 180.99" fill="none" stroke="#111" stroke-width="1.05" stroke-linejoin="round"/>
<path d="M12 357.39 L12.5 357.39 L13 357.39 L13.5 357.39 L14 357.39 L14.5 357.39 L15 357.39 L15.5 357.39 L16 357.39 L16.5 357.39 L17 357.39 L17.5 357.39 L18 357.39 L18.5 357.39 L19 357.39 L19.5 357.39 L20 357.39 L20.5 357.39 L21 357.39 L21.5 357.39 L22 357.39 L22.5 357.39 L23 357.39 L23.5 357.39 L24 357.39 L24.5 357.39 L25 357.38 L25.5 357.38 L26 357.38 L26.5 357.38 L27 357.38 L27.5 357.38 L28 357.38 L28.5 357.38 L29 357.38 L29.5 357.38 L30 357.38 L30.5 357.37 L31 357.37 L31.5 357.37 L32 357.37 L32.5 357.37 L33 357.37 L33.5 357.36 L34 357.36 L34.5 357.36 L35 357.35 L35.5 357.35 L36 357.35 L36.5 357.34 L37 357.34 L37.5 357.33 L38 357.33 L38.5 357.32 L39 357.31 L39.5 357.3 L40 357.28 L40.5 357.27 L41 357.25 L41.5 357.23 L42 357.2 L42.5 357.16 L43 357.11 L43.5 357.04 L44 356.95 L44.5 356.81 L44.67 356.75 L45 356.59 L45.4 356.31 L45.5 356.22 L45.77 355.9 L45.97 355.56 L46 355.49 L46.13 355.18 L46.43 354.12 L46.5 353.73 L46.65 352.69 L46.7 352.21 L46.87 350.02 L47 347.08 L47.01 346.71 L47.07 344.89 L47.12 342.49 L47.23 335.37 L47.31 327.73 L47.38 316.68 L47.43 306.05 L47.45 301.55 L47.49 292.96 L47.5 290.69 L47.53 284.98 L47.56 279.27 L47.6 277 L47.64 279.02 L47.67 284.49 L47.71 292.23 L47.73 296.06 L47.75 300.56 L47.82 315.15 L47.89 325.6 L47.95 330.98 L47.97 332.56 L48 334.78 L48.08 338.41 L48.17 340.63 L48.19 340.89 L48.31 340.86 L48.33 340.58 L48.42 338.3 L48.5 334.61 L48.53 332.36 L48.55 330.76 L48.61 325.31 L48.68 314.72 L48.75 299.95 L48.77 295.4 L48.79 291.52 L48.83 283.69 L48.86 278.15 L48.9 276.1 L48.94 278.39 L48.97 284.17 L49 289.94 L49.01 292.24 L49.05 300.93 L49.07 305.48 L49.12 316.23 L49.19 327.41 L49.27 335.14 L49.38 342.34 L49.43 344.77 L49.49 346.6 L49.5 346.99 L49.63 349.95 L49.8 352.16 L49.85 352.66 L50 353.7 L50.07 354.1 L50.37 355.17 L50.5 355.48 L50.53 355.55 L50.73 355.89 L51 356.21 L51.1 356.31 L51.5 356.59 L51.83 356.74 L52 356.81 L52.5 356.95 L53 357.04 L53.5 357.11 L54 357.16 L54.5 357.2 L55 357.23 L55.5 357.25 L56 357.27 L56.5 357.28 L57 357.3 L57.5 357.31 L58 357.32 L58.5 357.32 L59 357.33 L59.5 357.34 L60 357.34 L60.5 357.35 L61 357.35 L61.5 357.35 L62 357.36 L62.5 357.36 L63 357.36 L63.5 357.36 L64 357.37 L64.5 357.37 L65 357.37 L65.5 357.37 L66 357.37 L66.5 357.37 L67 357.38 L67.5 357.38 L68 357.38 L68.5 357.38 L69 357.38 L69.5 357.38 L70 357.38 L70.5 357.38 L71 357.38 L71.5 357.38 L72 357.38 L72.5 357.38 L73 357.38 L73.5 357.39 L74 357.39 L74.5 357.39 L75 357.39 L75.5 357.39 L76 357.39 L76.5 357.39 L77 357.39 L77.5 357.39 L78 357.39 L78.5 357.39 L79 357.39 L79.5 357.39 L80 357.39 L80.5 357.39 L81 357.39 L81.5 357.39 L82 357.39 L82.5 357.39 L83 357.39 L83.5 357.39 L84 357.39 L84.5 357.39 L85 357.39 L85.5 357.39 L86 357.39 L86.5 357.39 L87 357.39 L87.5 357.39 L88 357.39 L88.5 357.39 L89 357.39 L89.5 357.39 L90 357.39 L90.5 357.39 L91 357.39 L91.5 357.39 L92 357.39 L92.5 357.39 L93 357.39 L93.5 357.39 L94 357.39 L94.5 357.39 L95 357.39 L95.5 357.39 L96 357.39 L96.5 357.39 L97 357.39 L97.5 357.39 L98 357.39 L98.5 357.39 L99 357.39 L99.5 357.39 L100 357.39 L100.5 357.39 L101 357.39 L101.5 357.39 L102 357.39 L102.5 357.39 L103 357.39 L103.5 357.39 L104 357.39 L104.5 357.39 L105 357.39 L105.5 357.39 L106 357.39 L106.5 357.39 L107 357.39 L107.5 357.39 L108 357.39 L108.5 357.39 L109 357.39 L109.5 357.39 L110 357.39 L110.5 357.39 L111 357.39 L111.5 357.39 L112 357.39 L112.5 357.39 L113 357.39 L113.5 357.39 L114 357.39 L114.5 357.39 L115 357.39 L115.5 357.39 L116 357.39 L116.5 357.39 L117 357.39 L117.5 357.39 L118 357.39 L118.5 357.39 L119 357.39 L119.5 357.39 L120 357.39 L120.5 357.39 L121 357.39 L121.5 357.39 L122 357.39 L122.5 357.39 L123 357.39 L123.5 357.39 L124 357.39 L124.5 357.39 L125 357.39 L125.5 357.39 L126 357.39 L126.5 357.39 L127 357.39 L127.5 357.39 L128 357.38 L128.5 357.38 L129 357.38 L129.5 357.38 L130 357.38 L130.5 357.38 L131 357.38 L131.5 357.38 L132 357.38 L132.5 357.38 L133 357.38 L133.5 357.38 L134 357.38 L134.5 357.38 L135 357.38 L135.5 357.38 L136 357.37 L136.5 357.37 L137 357.37 L137.5 357.37 L138 357.37 L138.5 357.37 L139 357.37 L139.5 357.36 L140 357.36 L140.5 357.36 L141 357.36 L141.5 357.36 L142 357.35 L142.5 357.35 L143 357.35 L143.5 357.34 L144 357.34 L144.5 357.33 L145 357.33 L145.5 357.32 L146 357.32 L146.5 357.31 L147 357.3 L147.5 357.29 L148 357.28 L148.5 357.26 L149 357.24 L149.5 357.22 L150 357.19 L150.5 357.16 L151 357.11 L151.5 357.05 L152 356.97 L152.5 356.85 L152.87 356.72 L153 356.67 L153.5 356.37 L153.6 356.29 L153.97 355.87 L154 355.82 L154.17 355.53 L154.33 355.15 L154.5 354.63 L154.63 354.09 L154.85 352.66 L154.9 352.18 L155 351.01 L155.07 349.99 L155.21 346.68 L155.27 344.86 L155.32 342.46 L155.43 335.35 L155.5 328.56 L155.51 327.7 L155.58 316.66 L155.63 306.04 L155.65 301.54 L155.69 292.95 L155.73 284.97 L155.76 279.27 L155.8 277 L155.84 279.02 L155.87 284.49 L155.91 292.22 L155.93 296.05 L155.95 300.55 L156 311.53 L156.02 315.13 L156.09 325.58 L156.15 330.95 L156.17 332.53 L156.28 338.37 L156.37 340.59 L156.39 340.86 L156.5 340.96 L156.51 340.82 L156.53 340.55 L156.62 338.27 L156.73 332.33 L156.75 330.73 L156.81 325.28 L156.88 314.7 L156.95 299.94 L156.97 295.39 L156.99 291.51 L157 289.28 L157.03 283.69 L157.06 278.15 L157.1 276.1 L157.14 278.39 L157.17 284.16 L157.21 292.23 L157.25 300.92 L157.27 305.46 L157.32 316.21 L157.39 327.38 L157.47 335.11 L157.5 337.69 L157.58 342.3 L157.63 344.72 L157.69 346.56 L157.83 349.9 L158 352.11 L158.05 352.6 L158.27 354.04 L158.5 354.91 L158.57 355.1 L158.73 355.48 L158.93 355.82 L159 355.91 L159.3 356.23 L159.5 356.38 L160 356.63 L160.03 356.65 L160.5 356.78 L161 356.87 L161.5 356.92 L162 356.94 L162.5 356.93 L163 356.88 L163.07 356.87 L163.5 356.78 L163.9 356.64 L164 356.6 L164.32 356.39 L164.5 356.22 L164.73 355.92 L165 355.38 L165.07 355.19 L165.32 354.18 L165.5 352.88 L165.57 352.21 L165.73 349.71 L165.86 346.5 L165.98 341.02 L166 340 L166.07 335.1 L166.15 326.5 L166.23 314.71 L166.28 308.02 L166.32 301.82 L166.36 297.39 L166.4 295.7 L166.44 297.39 L166.48 301.82 L166.5 304.2 L166.53 308.02 L166.57 314.71 L166.65 326.51 L166.73 335.11 L166.82 341.03 L166.94 346.51 L167 348.21 L167.07 349.73 L167.23 352.23 L167.48 354.21 L167.5 354.3 L167.73 355.24 L168 355.87 L168.07 355.98 L168.48 356.46 L168.5 356.48 L168.9 356.73 L169 356.78 L169.5 356.95 L169.73 357 L170 357.05 L170.5 357.12 L171 357.17 L171.5 357.21 L172 357.23 L172.5 357.25 L173 357.27 L173.5 357.28 L174 357.29 L174.5 357.3 L175 357.31 L175.5 357.32 L176 357.32 L176.5 357.33 L177 357.33 L177.5 357.33 L178 357.33 L178.5 357.34 L179 357.34 L179.5 357.34 L180 357.34 L180.5 357.34 L181 357.34 L181.5 357.34 L182 357.33 L182.5 357.33 L183 357.33 L183.5 357.32 L184 357.32 L184.5 357.31 L185 357.3 L185.5 357.29 L186 357.28 L186.5 357.27 L187 357.24 L187.5 357.21 L188 357.17 L188.5 357.12 L188.97 357.04 L189 357.03 L189.5 356.9 L189.8 356.77 L190 356.66 L190.22 356.51 L190.5 356.22 L190.63 356.03 L190.97 355.29 L191 355.18 L191.22 354.26 L191.47 352.29 L191.5 351.9 L191.63 349.79 L191.76 346.56 L191.88 341.08 L191.97 335.15 L192 332.1 L192.05 326.54 L192.13 314.73 L192.18 308.04 L192.22 301.82 L192.26 297.39 L192.3 295.7 L192.34 297.39 L192.38 301.82 L192.43 308.04 L192.47 314.73 L192.5 319.77 L192.55 326.54 L192.63 335.15 L192.72 341.08 L192.84 346.56 L192.97 349.79 L193 350.41 L193.13 352.29 L193.38 354.27 L193.5 354.82 L193.63 355.29 L193.97 356.03 L194 356.08 L194.38 356.51 L194.5 356.6 L194.8 356.78 L195 356.86 L195.5 357.01 L195.63 357.04 L196 357.11 L196.5 357.17 L197 357.21 L197.5 357.25 L198 357.27 L198.5 357.29 L199 357.3 L199.5 357.32 L200 357.32 L200.5 357.33 L201 357.34 L201.5 357.34 L202 357.35 L202.5 357.35 L203 357.36 L203.5 357.36 L204 357.36 L204.5 357.37 L205 357.37 L205.5 357.37 L206 357.37 L206.5 357.37 L207 357.37 L207.5 357.38 L208 357.38 L208.5 357.38 L209 357.38 L209.5 357.38 L210 357.38 L210.5 357.38 L211 357.38 L211.5 357.38 L212 357.38 L212.5 357.38 L213 357.38 L213.5 357.38 L214 357.38 L214.5 357.39 L215 357.39 L215.5 357.39 L216 357.39 L216.5 357.39 L217 357.39 L217.5 357.39 L218 357.39 L218.5 357.39 L219 357.39 L219.5 357.39 L220 357.39 L220.5 357.39 L221 357.39 L221.5 357.39 L222 357.39 L222.5 357.39 L223 357.39 L223.5 357.39 L224 357.39 L224.5 357.39 L225 357.39 L225.5 357.39 L226 357.39 L226.5 357.39 L227 357.39 L227.5 357.39 L228 357.39 L228.5 357.39 L229 357.39 L229.5 357.39 L230 357.39 L230.5 357.39 L231 357.39 L231.5 357.39 L232 357.39 L232.5 357.39 L233 357.39 L233.5 357.39 L234 357.39 L234.5 357.39 L235 357.39 L235.5 357.39 L236 357.39 L236.5 357.39 L237 357.39 L237.5 357.39 L238 357.39 L238.5 357.39 L239 357.39 L239.5 357.39 L240 357.39 L240.5 357.39 L241 357.39 L241.5 357.39 L242 357.39 L242.5 357.39 L243 357.39 L243.5 357.39 L244 357.39 L244.5 357.39 L245 357.39 L245.5 357.39 L246 357.39 L246.5 357.39 L247 357.39 L247.5 357.39 L248 357.39 L248.5 357.39 L249 357.39 L249.5 357.39 L250 357.39 L250.5 357.39 L251 357.39 L251.5 357.39 L252 357.39 L252.5 357.39 L253 357.39 L253.5 357.39 L254 357.39 L254.5 357.39 L255 357.39 L255.5 357.39 L256 357.39 L256.5 357.39 L257 357.39 L257.5 357.39 L258 357.39 L258.5 357.39 L259 357.39 L259.5 357.39 L260 357.39 L260.5 357.39 L261 357.39 L261.5 357.39 L262 357.39 L262.5 357.39 L263 357.39 L263.5 357.39 L264 357.39 L264.5 357.39 L265 357.39 L265.5 357.39 L266 357.39 L266.5 357.39 L267 357.39 L267.5 357.39 L268 357.39 L268.5 357.39 L269 357.39 L269.5 357.39 L270 357.39 L270.5 357.39 L271 357.39 L271.5 357.39 L272 357.39 L272.5 357.39 L273 357.39 L273.5 357.39 L274 357.39 L274.5 357.39 L275 357.39 L275.5 357.39 L276 357.39 L276.5 357.39 L277 357.39 L277.5 357.38 L278 357.38 L278.5 357.38 L279 357.38 L279.5 357.38 L280 357.38 L280.5 357.38 L281 357.38 L281.5 357.38 L282 357.38 L282.5 357.38 L283 357.38 L283.5 357.38 L284 357.38 L284.5 357.38 L285 357.38 L285.5 357.37 L286 357.37 L286.5 357.37 L287 357.37 L287.5 357.37 L288 357.37 L288.5 357.37 L289 357.36 L289.5 357.36 L290 357.36 L290.5 357.35 L291 357.35 L291.5 357.35 L292 357.34 L292.5 357.34 L293 357.33 L293.5 357.33 L294 357.32 L294.5 357.31 L295 357.3 L295.5 357.28 L296 357.26 L296.5 357.24 L297 357.21 L297.5 357.17 L298 357.12 L298.5 357.03 L298.77 356.97 L299 356.91 L299.5 356.7 L299.87 356.44 L299.97 356.34 L300 356.31 L300.23 355.99 L300.5 355.4 L300.53 355.32 L300.7 354.67 L300.75 354.43 L300.97 352.76 L301 352.39 L301.07 351.48 L301.11 350.7 L301.22 348.08 L301.33 343.67 L301.41 338.93 L301.43 336.78 L301.48 332.09 L301.5 329.76 L301.55 322.72 L301.59 317.41 L301.63 312.46 L301.66 308.92 L301.7 307.5 L301.73 308.14 L301.74 308.73 L301.77 312.08 L301.81 316.83 L301.85 321.95 L301.92 330.88 L301.95 333.54 L301.99 337.25 L302 337.73 L302.07 341.42 L302.17 344.56 L302.18 344.76 L302.29 345.84 L302.31 345.83 L302.42 344.69 L302.43 344.49 L302.5 342.6 L302.53 341.27 L302.61 337.03 L302.65 333.25 L302.68 330.56 L302.75 321.48 L302.79 316.28 L302.83 311.46 L302.86 308.05 L302.87 307.46 L302.9 306.8 L302.94 308.24 L302.97 311.83 L303 315.42 L303.01 316.85 L303.05 322.24 L303.12 331.74 L303.17 336.5 L303.19 338.68 L303.27 343.49 L303.38 347.96 L303.49 350.62 L303.5 350.86 L303.53 351.41 L303.63 352.71 L303.85 354.39 L303.9 354.63 L304 355.05 L304.07 355.3 L304.37 355.97 L304.5 356.17 L304.63 356.32 L304.73 356.42 L305 356.62 L305.1 356.68 L305.5 356.86 L305.83 356.96 L306 356.99 L306.5 357.08 L307 357.14 L307.5 357.18 L308 357.2 L308.5 357.22 L309 357.24 L309.5 357.25 L310 357.25 L310.5 357.25 L311 357.25 L311.5 357.25 L312 357.24 L312.5 357.22 L313 357.2 L313.5 357.18 L314 357.14 L314.5 357.08 L315 356.99 L315.07 356.97 L315.5 356.85 L315.8 356.71 L316 356.6 L316.17 356.47 L316.5 356.09 L316.53 356.04 L316.83 355.4 L316.9 355.17 L317 354.78 L317.05 354.56 L317.27 352.98 L317.41 351.02 L317.5 349.17 L317.52 348.55 L317.63 344.39 L317.71 339.92 L317.78 333.48 L317.85 324.66 L317.89 319.66 L317.93 315 L317.96 311.66 L318 310.3 L318.04 311.43 L318.07 314.55 L318.11 318.97 L318.15 323.73 L318.22 332.02 L318.29 337.86 L318.37 341.6 L318.48 344.33 L318.5 344.58 L318.51 344.68 L318.59 344.66 L318.62 344.29 L318.73 341.49 L318.81 337.68 L318.88 331.74 L318.95 323.33 L318.99 318.5 L319 317.22 L319.03 314.01 L319.06 310.85 L319.1 309.7 L319.14 311.07 L319.17 314.46 L319.21 319.18 L319.25 324.25 L319.32 333.18 L319.39 339.71 L319.47 344.24 L319.5 345.75 L319.58 348.45 L319.69 350.96 L319.83 352.94 L320 354.25 L320.05 354.54 L320.2 355.16 L320.27 355.4 L320.5 355.92 L320.57 356.04 L320.93 356.47 L321 356.53 L321.3 356.72 L321.5 356.82 L322 356.98 L322.03 356.99 L322.5 357.08 L323 357.15 L323.5 357.19 L324 357.23 L324.5 357.25 L325 357.27 L325.5 357.29 L326 357.3 L326.5 357.31 L327 357.32 L327.5 357.33 L328 357.33 L328.5 357.34 L329 357.34 L329.5 357.35 L330 357.35 L330.5 357.35 L331 357.36 L331.5 357.36 L332 357.36 L332.5 357.36 L333 357.36 L333.5 357.36 L334 357.37 L334.5 357.37 L335 357.37 L335.5 357.37 L336 357.37 L336.5 357.37 L337 357.37 L337.5 357.37 L338 357.37 L338.5 357.37 L339 357.37 L339.5 357.37 L340 357.37 L340.5 357.37 L341 357.37 L341.5 357.37 L342 357.37 L342.5 357.37 L343 357.37 L343.5 357.37 L344 357.37 L344.5 357.37 L345 357.37 L345.5 357.37 L346 357.37 L346.5 357.37 L347 357.37 L347.5 357.37 L348 357.37 L348.5 357.37 L349 357.37 L349.5 357.37 L350 357.37 L350.5 357.37 L351 357.37 L351.5 357.37 L352 357.37 L352.5 357.37 L353 357.37 L353.5 357.37 L354 357.36 L354.5 357.36 L355 357.36 L355.5 357.36 L356 357.36 L356.5 357.36 L357 357.36 L357.5 357.35 L358 357.35 L358.5 357.35 L359 357.34 L359.5 357.34 L360 357.34 L360.5 357.33 L361 357.33 L361.5 357.32 L362 357.31 L362.5 357.3 L363 357.29 L363.5 357.28 L364 357.26 L364.5 357.24 L365 357.22 L365.5 357.19 L366 357.15 L366.5 357.09 L367 357.01 L367.5 356.9 L368 356.73 L368.5 356.44 L369 355.92 L369.4 355.13 L369.5 354.83 L369.7 354.03 L370 351.9 L370.2 349.2 L370.35 345.73 L370.5 339.81 L370.6 333.49 L370.7 324.19 L370.8 311.43 L370.85 304.28 L370.9 297.64 L370.95 292.79 L371 291 L371.05 292.79 L371.1 297.64 L371.15 304.28 L371.2 311.43 L371.3 324.19 L371.4 333.49 L371.5 339.81 L371.65 345.73 L371.8 349.2 L372 351.9 L372.3 354.03 L372.5 354.83 L372.6 355.13 L373 355.92 L373.5 356.44 L374 356.73 L374.5 356.9 L375 357.01 L375.5 357.09 L376 357.14 L376.5 357.19 L377 357.22 L377.5 357.24 L378 357.26 L378.5 357.28 L379 357.29 L379.5 357.3 L380 357.31 L380.5 357.31 L381 357.32 L381.5 357.33 L382 357.33 L382.5 357.33 L383 357.34 L383.5 357.34 L384 357.34 L384.5 357.35 L385 357.35 L385.5 357.35 L386 357.35 L386.5 357.35 L387 357.35 L387.5 357.36 L388 357.36 L388.5 357.36 L389 357.36 L389.5 357.36 L390 357.36 L390.5 357.36 L391 357.36 L391.5 357.36 L392 357.36 L392.5 357.36 L393 357.36 L393.5 357.36 L394 357.36 L394.5 357.36 L395 357.36 L395.5 357.36 L396 357.36 L396.5 357.36 L397 357.36 L397.5 357.36 L398 357.36 L398.5 357.36 L399 357.36 L399.5 357.36 L400 357.36 L400.5 357.36 L401 357.36 L401.5 357.35 L402 357.35 L402.5 357.35 L403 357.35 L403.5 357.35 L404 357.35 L404.5 357.35 L405 357.35 L405.5 357.35 L406 357.35 L406.5 357.34 L407 357.34 L407.5 357.34 L408 357.34 L408.5 357.34 L409 357.34 L409.5 357.33 L410 357.33 L410.5 357.33 L411 357.33 L411.5 357.32 L412 357.32 L412.5 357.32 L413 357.32 L413.5 357.31 L414 357.31 L414.5 357.3 L415 357.3 L415.5 357.29 L416 357.29 L416.5 357.28 L417 357.27 L417.5 357.26 L418 357.25 L418.5 357.24 L419 357.22 L419.5 357.2 L420 357.18 L420.5 357.15 L421 357.12 L421.5 357.07 L422 357 L422.5 356.91 L423 356.76 L423.2 356.67 L423.5 356.5 L423.9 356.13 L424 356 L424.2 355.64 L424.5 354.73 L424.7 353.6 L424.85 352.18 L425 349.78 L425.1 347.23 L425.2 343.51 L425.3 338.42 L425.35 335.57 L425.4 332.91 L425.45 330.96 L425.5 330.2 L425.55 330.85 L425.6 332.69 L425.65 335.23 L425.7 337.97 L425.8 342.81 L425.9 346.25 L426 348.47 L426.15 350.27 L426.2 350.58 L426.3 350.85 L426.4 350.72 L426.5 350.16 L426.55 349.7 L426.7 347.3 L426.8 344.49 L426.9 340.22 L427 334.25 L427.05 330.9 L427.1 327.78 L427.15 325.51 L427.2 324.7 L427.25 325.6 L427.3 327.95 L427.35 331.16 L427.4 334.61 L427.5 340.78 L427.6 345.27 L427.7 348.34 L427.85 351.22 L428 352.92 L428.2 354.26 L428.5 355.33 L428.8 355.89 L429 356.13 L429.2 356.3 L429.5 356.48 L429.7 356.57 L430 356.66 L430.2 356.71 L430.5 356.76 L431 356.81 L431.2 356.82 L431.5 356.83 L432 356.82 L432.5 356.8 L433 356.75 L433.5 356.68 L433.7 356.65 L434 356.58 L434.5 356.42 L434.7 356.34 L434.8 356.29 L435 356.18 L435.2 356.05 L435.5 355.78 L435.7 355.55 L435.8 355.4 L436 355.05 L436.1 354.83 L436.3 354.25 L436.4 353.88 L436.5 353.42 L436.7 352.12 L436.8 351.2 L436.9 349.97 L437 348.32 L437.05 347.27 L437.2 342.75 L437.3 337.97 L437.4 331 L437.5 321.46 L437.55 316.11 L437.6 311.12 L437.65 307.41 L437.7 305.9 L437.75 306.97 L437.8 310.23 L437.85 314.75 L437.9 319.61 L438 328.04 L438.1 333.65 L438.15 335.44 L438.2 336.65 L438.3 337.48 L438.35 337.14 L438.4 336.29 L438.5 332.92 L438.6 327.33 L438.65 324.01 L438.7 320.91 L438.75 318.68 L438.8 318 L438.85 319.15 L438.9 321.84 L438.95 325.44 L439 329.29 L439.1 336.1 L439.2 341.03 L439.3 344.34 L439.4 346.53 L439.45 347.32 L439.5 347.96 L439.6 348.87 L439.7 349.39 L439.8 349.61 L439.9 349.56 L440 349.23 L440.1 348.59 L440.2 347.57 L440.3 346.04 L440.35 345.01 L440.4 343.77 L440.5 340.39 L440.6 335.33 L440.7 327.85 L440.8 317.53 L440.85 311.74 L440.9 306.35 L440.95 302.4 L441 300.9 L441.05 302.28 L441.1 306.12 L441.15 311.38 L441.2 317.04 L441.3 327.08 L441.4 334.21 L441.5 338.83 L441.6 341.64 L441.65 342.52 L441.7 343.12 L441.75 343.45 L441.8 343.53 L441.9 342.89 L442 341.06 L442.1 337.71 L442.2 332.68 L442.25 329.79 L442.3 327.09 L442.35 325.14 L442.4 324.5 L442.45 325.4 L442.5 327.6 L442.55 330.57 L442.6 333.74 L442.7 339.38 L442.8 343.46 L442.9 346.2 L443 348 L443.05 348.66 L443.2 349.9 L443.3 350.29 L443.4 350.41 L443.5 350.24 L443.65 349.41 L443.7 348.93 L443.8 347.55 L443.9 345.39 L444 342.13 L444.1 337.59 L444.15 335.03 L444.2 332.64 L444.25 330.88 L444.3 330.2 L444.35 330.79 L444.4 332.45 L444.45 334.74 L444.5 337.2 L444.6 341.53 L444.7 344.55 L444.8 346.43 L444.9 347.48 L444.95 347.76 L445 347.91 L445.1 347.83 L445.2 347.27 L445.3 346.17 L445.35 345.37 L445.4 344.37 L445.5 341.58 L445.6 337.36 L445.7 331.06 L445.8 322.35 L445.85 317.45 L445.9 312.87 L445.95 309.47 L446 308.1 L446.05 309.11 L446.1 312.14 L446.15 316.34 L446.2 320.84 L446.3 328.66 L446.4 333.9 L446.5 336.78 L446.6 337.77 L446.65 337.64 L446.8 334.64 L446.9 329.98 L447 322.39 L447.1 311.48 L447.15 305.28 L447.2 299.49 L447.25 295.26 L447.3 293.7 L447.35 295.3 L447.4 299.57 L447.45 305.39 L447.5 311.61 L447.55 317.44 L447.6 322.5 L447.7 329.95 L447.8 334.26 L447.9 336.05 L447.95 336.15 L448 335.83 L448.05 335.23 L448.1 334.59 L448.15 334.24 L448.2 334.5 L448.25 335.51 L448.3 337.16 L448.35 339.17 L448.4 341.24 L448.5 344.9 L448.6 347.62 L448.7 349.54 L448.85 351.44 L448.9 351.9 L449 352.66 L449.2 353.69 L449.3 354.06 L449.5 354.62 L449.8 355.16 L450 355.41 L450.2 355.6 L450.3 355.68 L450.5 355.81 L450.7 355.91 L451 356.02 L451.2 356.08 L451.3 356.1 L451.5 356.13 L452 356.17 L452.2 356.17 L452.5 356.15 L453 356.06 L453.5 355.89 L453.9 355.66 L454 355.59 L454.5 355.05 L454.9 354.26 L455 353.97 L455.2 353.22 L455.4 352.11 L455.5 351.33 L455.7 349.02 L455.85 346.14 L455.9 344.82 L456 341.35 L456.1 336.3 L456.2 328.94 L456.3 318.89 L456.35 313.26 L456.4 308.01 L456.45 304.1 L456.5 302.5 L456.55 303.61 L456.6 307.02 L456.65 311.77 L456.7 316.88 L456.8 325.78 L456.9 331.81 L457 335.26 L457.1 336.71 L457.15 336.8 L457.25 335.78 L457.3 334.63 L457.4 330.81 L457.5 324.36 L457.6 314.3 L457.7 300.09 L457.75 292.06 L457.8 284.58 L457.85 279.12 L457.9 277.1 L457.95 279.14 L458 284.64 L458.05 292.14 L458.1 300.19 L458.2 314.42 L458.3 324.48 L458.35 328.06 L458.4 330.85 L458.5 334.47 L458.55 335.45 L458.6 335.93 L458.7 335.46 L458.8 333.24 L458.85 331.7 L458.9 330.23 L458.95 329.23 L459 329.1 L459.05 330.02 L459.1 331.84 L459.15 334.16 L459.2 336.6 L459.3 340.86 L459.4 343.89 L459.5 345.83 L459.6 346.95 L459.65 347.26 L459.75 347.45 L459.8 347.33 L459.9 346.59 L460 345.05 L460.1 342.44 L460.2 338.64 L460.25 336.47 L460.3 334.45 L460.35 332.99 L460.4 332.5 L460.45 333.15 L460.5 334.77 L460.55 336.96 L460.6 339.31 L460.7 343.48 L460.8 346.52 L460.9 348.57 L461 349.95 L461.05 350.46 L461.1 350.87 L461.2 351.5 L461.4 352.18 L461.5 352.31 L461.7 352.29 L461.8 352.14 L461.9 351.89 L462 351.52 L462.1 351.01 L462.3 349.36 L462.4 348.04 L462.45 347.19 L462.5 346.19 L462.6 343.53 L462.7 339.64 L462.8 333.97 L462.9 326.21 L462.95 321.86 L463 317.8 L463.05 314.76 L463.1 313.5 L463.15 314.32 L463.2 316.9 L463.25 320.51 L463.3 324.38 L463.4 331.1 L463.5 335.56 L463.6 338 L463.7 338.82 L463.75 338.71 L463.85 337.48 L463.9 336.31 L464 332.63 L464.1 326.62 L464.2 317.38 L464.3 304.41 L464.35 297.09 L464.4 290.25 L464.45 285.19 L464.5 283.2 L464.55 284.82 L464.6 289.5 L464.65 295.96 L464.7 302.87 L464.8 314.91 L464.9 323.01 L465 327.53 L465.05 328.67 L465.1 329.15 L465.15 328.99 L465.2 328.17 L465.3 324.4 L465.4 317.25 L465.5 306.44 L465.55 300.2 L465.6 294.36 L465.65 290.14 L465.7 288.7 L465.75 290.55 L465.8 295.2 L465.85 301.47 L465.9 308.17 L466 320.01 L466.1 328.42 L466.2 333.82 L466.35 337.94 L466.5 338.53 L466.6 337.02 L466.7 333.68 L466.8 328.39 L466.85 325.29 L466.9 322.39 L466.95 320.33 L467 319.7 L467.05 320.78 L467.1 323.3 L467.15 326.67 L467.2 330.26 L467.3 336.63 L467.4 341.23 L467.5 344.32 L467.65 347.04 L467.7 347.59 L467.8 348.31 L467.9 348.57 L468 348.4 L468.05 348.14 L468.2 346.43 L468.3 344.23 L468.4 340.77 L468.5 335.86 L468.55 333.09 L468.6 330.51 L468.65 328.64 L468.7 328 L468.75 328.8 L468.8 330.82 L468.85 333.55 L468.9 336.49 L469 341.74 L469.1 345.56 L469.2 348.18 L469.3 349.97 L469.35 350.65 L469.5 352.1 L469.7 353.23 L470 354.05 L470.3 354.34 L470.4 354.35 L470.5 354.32 L470.7 354.13 L470.8 353.95 L471 353.37 L471.2 352.3 L471.3 351.44 L471.35 350.88 L471.5 348.47 L471.6 345.89 L471.7 342.12 L471.8 336.94 L471.85 334.04 L471.9 331.33 L471.95 329.32 L472 328.5 L472.05 329.09 L472.1 330.87 L472.15 333.34 L472.2 335.99 L472.3 340.62 L472.4 343.73 L472.5 345.47 L472.65 346.11 L472.7 345.85 L472.8 344.57 L472.9 342.08 L473 337.98 L473.1 332.08 L473.15 328.72 L473.2 325.59 L473.25 323.31 L473.3 322.5 L473.35 323.42 L473.4 325.8 L473.45 329.04 L473.5 332.52 L473.6 338.68 L473.7 343.08 L473.8 345.96 L473.9 347.73 L473.95 348.31 L474 348.72 L474.05 348.96 L474.1 349.06 L474.2 348.78 L474.3 347.8 L474.4 345.93 L474.5 343.09 L474.55 341.45 L474.6 339.93 L474.65 338.83 L474.7 338.5 L474.75 339.06 L474.8 340.37 L474.85 342.13 L474.9 344.01 L475 347.37 L475.1 349.83 L475.2 351.52 L475.3 352.7 L475.35 353.15 L475.5 354.13 L475.7 354.93 L475.8 355.2 L476 355.59 L476.3 355.96 L476.5 356.13 L476.7 356.25 L477 356.39 L477.2 356.45 L477.3 356.48 L477.5 356.52 L477.7 356.55 L478 356.59 L478.5 356.61 L478.7 356.6 L479 356.59 L479.5 356.51 L479.8 356.43 L480 356.36 L480.5 356.08 L480.8 355.79 L480.9 355.66 L481 355.51 L481.2 355.1 L481.3 354.84 L481.5 354.09 L481.7 352.87 L481.8 351.94 L481.85 351.35 L482 348.83 L482.1 346.19 L482.2 342.36 L482.3 337.12 L482.35 334.18 L482.4 331.44 L482.45 329.38 L482.5 328.5 L482.55 329.01 L482.6 330.7 L482.65 333.06 L482.7 335.6 L482.8 339.96 L482.9 342.75 L483 344.1 L483.15 343.89 L483.2 343.24 L483.3 340.95 L483.4 336.97 L483.5 330.71 L483.6 321.84 L483.65 316.82 L483.7 312.14 L483.75 308.74 L483.8 307.5 L483.85 308.82 L483.9 312.31 L483.95 317.06 L484 322.17 L484.1 331.24 L484.2 337.75 L484.3 342.03 L484.4 344.74 L484.45 345.65 L484.5 346.32 L484.55 346.78 L484.6 347.03 L484.7 346.95 L484.8 345.99 L484.9 343.98 L485 340.83 L485.05 338.99 L485.1 337.27 L485.15 336.05 L485.2 335.7 L485.25 336.37 L485.3 337.9 L485.35 339.94 L485.4 342.11 L485.5 345.99 L485.6 348.84 L485.7 350.81 L485.8 352.18 L485.85 352.7 L486 353.85 L486.2 354.79 L486.3 355.11 L486.5 355.58 L486.8 356.03 L487 356.24 L487.2 356.39 L487.5 356.56 L487.7 356.65 L487.8 356.69 L488 356.76 L488.2 356.81 L488.5 356.88 L489 356.97 L489.2 357 L489.5 357.04 L490 357.08 L490.5 357.12 L491 357.15 L491.5 357.18 L492 357.2 L492.5 357.21 L493 357.23 L493.5 357.24 L494 357.25 L494.5 357.26 L495 357.27 L495.5 357.28 L496 357.29 L496.5 357.29 L497 357.3 L497.5 357.3 L498 357.31 L498.5 357.31 L499 357.32 L499.5 357.32 L500 357.32 L500.5 357.33 L501 357.33 L501.5 357.33 L502 357.33 L502.5 357.34 L503 357.34 L503.5 357.34 L504 357.34 L504.5 357.34 L505 357.35 L505.5 357.35 L506 357.35 L506.5 357.35 L507 357.35 L507.5 357.35 L508 357.35 L508.5 357.36 L509 357.36 L509.5 357.36 L510 357.36 L510.5 357.36 L511 357.36 L511.5 357.36 L512 357.36 L512.5 357.36 L513 357.36 L513.5 357.36 L514 357.37 L514.5 357.37 L515 357.37 L515.5 357.37 L516 357.37 L516.5 357.37 L517 357.37 L517.5 357.37 L518 357.37 L518.5 357.37 L519 357.37 L519.5 357.37 L520 357.37 L520.5 357.37 L521 357.37 L521.5 357.37 L522 357.37 L522.5 357.38 L523 357.38 L523.5 357.38 L524 357.38 L524.5 357.38 L525 357.38 L525.5 357.38 L526 357.38 L526.5 357.38 L527 357.38 L527.5 357.38 L528 357.38 L528.5 357.38 L529 357.38 L529.5 357.38 L530 357.38 L530.5 357.38 L531 357.38 L531.5 357.38 L532 357.38 L532.5 357.38 L533 357.38 L533.5 357.38 L534 357.38 L534.5 357.38 L535 357.38 L535.5 357.38 L536 357.38 L536.5 357.38 L537 357.38 L537.5 357.38 L538 357.38 L538.5 357.38 L539 357.38 L539.5 357.38 L540 357.39 L540.5 357.39 L541 357.39 L541.5 357.39 L542 357.39 L542.5 357.39 L543 357.39 L543.5 357.39 L544 357.39 L544.5 357.39 L545 357.39 L545.5 357.39 L546 357.39 L546.5 357.39 L547 357.39 L547.5 357.39 L548 357.39 L548.5 357.39 L549 357.39 L549.5 357.39 L550 357.39 L550.5 357.39 L551 357.39 L551.5 357.39 L552 357.39 L552.5 357.39 L553 357.39 L553.5 357.39 L554 357.39 L554.5 357.39 L555 357.39 L555.5 357.39 L556 357.39 L556.5 357.39 L557 357.39 L557.5 357.39 L558 357.39 L558.5 357.39 L559 357.39 L559.5 357.39 L560 357.39 L560.5 357.39 L561 357.39 L561.5 357.39 L562 357.39 L562.5 357.39 L563 357.39 L563.5 357.39 L564 357.39 L564.5 357.39 L565 357.39 L565.5 357.39 L566 357.39 L566.5 357.39 L567 357.39 L567.5 357.39 L568 357.39 L568.5 357.39 L569 357.39 L569.5 357.39 L570 357.39 L570.5 357.39 L571 357.39 L571.5 357.39 L572 357.39 L572.5 357.39 L573 357.39 L573.5 357.39 L574 357.39 L574.5 357.39 L575 357.39 L575.5 357.39 L576 357.39 L576.5 357.39 L577 357.39 L577.5 357.39 L578 357.39 L578.5 357.39 L579 357.39 L579.5 357.39 L580 357.39 L580.5 357.39 L581 357.39 L581.5 357.39 L582 357.39 L582.5 357.39 L583 357.39 L583.5 357.39 L584 357.39 L584.5 357.39 L585 357.39 L585.5 357.39 L586 357.39 L586.5 357.39 L587 357.39 L587.5 357.39 L588 357.39 L588.5 357.39 L589 357.39 L589.5 357.39 L590 357.39 L590.5 357.39 L591 357.39 L591.5 357.39 L592 357.39 L592.5 357.39 L593 357.39 L593.5 357.39 L594 357.39 L594.5 357.39 L595 357.39 L595.5 357.39 L596 357.39 L596.5 357.39 L597 357.39 L597.5 357.39 L598 357.39 L598.5 357.39 L599 357.39 L599.5 357.39 L600 357.39 L600.5 357.39 L601 357.39 L601.5 357.39 L602 357.39 L602.5 357.39 L603 357.39 L603.5 357.39 L604 357.39 L604.5 357.39 L605 357.39 L605.5 357.39 L606 357.39 L606.5 357.39 L607 357.39 L607.5 357.39 L608 357.39 L608.5 357.39 L609 357.39 L609.5 357.39 L610 357.39 L610.5 357.39 L611 357.39 L611.5 357.39 L612 357.39 L612.5 357.39 L613 357.39 L613.5 357.39 L614 357.39 L614.5 357.39 L615 357.39 L615.5 357.39 L616 357.39 L616.5 357.39 L617 357.39 L617.5 357.39 L618 357.39 L618.5 357.39 L619 357.39 L619.5 357.39 L620 357.39 L620.5 357.39 L621 357.39 L621.5 357.39 L622 357.39 L622.5 357.39 L623 357.39 L623.5 357.39 L624 357.39 L624.5 357.39 L625 357.39 L625.5 357.39 L626 357.39 L626.5 357.39 L627 357.39 L627.5 357.39 L628 357.39 L628.5 357.39 L629 357.39 L629.5 357.39 L630 357.39 L630.5 357.39 L631 357.39 L631.5 357.39 L632 357.39 L632.5 357.38 L633 357.38 L633.5 357.38 L634 357.38 L634.5 357.38 L635 357.38 L635.5 357.38 L636 357.38 L636.5 357.38 L637 357.38 L637.5 357.38 L638 357.38 L638.5 357.38 L639 357.38 L639.5 357.38 L640 357.38 L640.5 357.38 L641 357.38 L641.5 357.38 L642 357.37 L642.5 357.37 L643 357.37 L643.5 357.37 L644 357.37 L644.5 357.37 L645 357.37 L645.5 357.37 L646 357.36 L646.5 357.36 L647 357.36 L647.5 357.36 L648 357.36 L648.5 357.36 L649 357.35 L649.5 357.35 L650 357.35 L650.5 357.35 L651 357.34 L651.5 357.34 L652 357.33 L652.5 357.33 L653 357.33 L653.5 357.32 L654 357.31 L654.5 357.31 L655 357.3 L655.5 357.29 L656 357.28 L656.5 357.27 L657 357.26 L657.5 357.24 L658 357.22 L658.5 357.2 L659 357.18 L659.5 357.15 L660 357.11 L660.5 357.07 L661 357.01 L661.5 356.94 L662 356.84 L662.5 356.71 L663 356.53 L663.5 356.27 L663.67 356.15 L664 355.85 L664.4 355.31 L664.5 355.13 L664.77 354.52 L664.97 353.87 L665 353.74 L665.13 353.13 L665.43 351.09 L665.5 350.34 L665.65 348.35 L665.7 347.4 L665.87 343.2 L666 337.54 L666.01 336.81 L666.07 333.32 L666.12 328.68 L666.23 314.97 L666.31 300.24 L666.38 278.95 L666.43 258.47 L666.45 249.8 L666.49 233.25 L666.5 228.87 L666.53 217.87 L666.56 206.87 L666.6 202.5 L666.64 206.4 L666.67 216.95 L666.71 231.85 L666.73 239.24 L666.75 247.91 L666.82 276.03 L666.89 296.18 L666.95 306.54 L666.97 309.6 L667 313.88 L667.08 320.88 L667.17 325.19 L667.19 325.69 L667.31 325.68 L667.33 325.16 L667.42 320.83 L667.5 313.79 L667.53 309.49 L667.55 306.42 L667.61 296.02 L667.68 275.79 L667.75 247.57 L667.77 238.87 L667.79 231.46 L667.83 216.5 L667.86 205.92 L667.9 202 L667.94 206.38 L667.97 217.42 L668 228.45 L668.01 232.85 L668.05 249.46 L668.07 258.16 L668.12 278.7 L668.19 300.07 L668.27 314.85 L668.38 328.6 L668.43 333.25 L668.49 336.75 L668.5 337.49 L668.63 343.16 L668.8 347.38 L668.85 348.32 L669 350.33 L669.07 351.08 L669.37 353.13 L669.5 353.73 L669.53 353.86 L669.73 354.51 L670 355.13 L670.1 355.31 L670.5 355.85 L670.83 356.15 L671 356.26 L671.5 356.53 L672 356.71 L672.5 356.84 L673 356.94 L673.5 357.01 L674 357.07 L674.5 357.11 L675 357.15 L675.5 357.18 L676 357.2 L676.5 357.22 L677 357.24 L677.5 357.26 L678 357.27 L678.5 357.28 L679 357.29 L679.5 357.3 L680 357.31 L680.5 357.31 L681 357.32 L681.5 357.33 L682 357.33 L682.5 357.33 L683 357.34 L683.5 357.34 L684 357.35 L684.5 357.35 L685 357.35 L685.5 357.35 L686 357.36 L686.5 357.36 L687 357.36 L687.5 357.36 L688 357.36 L688.5 357.37 L689 357.37 L689.5 357.37 L690 357.37 L690.5 357.37 L691 357.37 L691.5 357.37 L692 357.37 L692.5 357.38 L693 357.38 L693.5 357.38 L694 357.38 L694.5 357.38 L695 357.38 L695.5 357.38 L696 357.38 L696.5 357.38 L697 357.38 L697.5 357.38 L698 357.38 L698.5 357.38 L699 357.38 L699.5 357.38 L700 357.38 L700.5 357.39 L701 357.39 L701.5 357.39 L702 357.39 L702.5 357.39 L703 357.39 L703.5 357.39 L704 357.39 L704.5 357.39 L705 357.39 L705.5 357.39 L706 357.39 L706.5 357.39 L707 357.39 L707.5 357.39 L708 357.39 L708.5 357.39 L709 357.39 L709.5 357.39 L710 357.39 L710.5 357.39 L711 357.39" fill="none" stroke="#111" stroke-width="1.05" stroke-linejoin="round"/>
<rect x="479.0" y="10.4" width="1.9" height="140" fill="#000"/>
<rect x="368.6" y="11.2" width="3.0" height="152" fill="#8a8a8a"/>
<path d="M358 181 L362 180.6 L364.5 179.6 L366.3 178.2 L367.3 175.8 L367.9 171 L368.1 164.6 L368.3 130 L368.4 11.2 L371.7 11.2 L371.6 130 L371.9 164.6 L372.3 171 L373 174.5 L374.3 177.2 L376.3 178.6 L379.7 179.7 L384 180.5 L388 180.8" fill="none" stroke="#222" stroke-width="1.05" stroke-linejoin="round"/>
<text transform="translate(367 79.8) rotate(-90)" font-size="18" font-weight="bold" fill="#000" >HDO</text>
<text transform="translate(474.3 88.2) rotate(-90)" font-size="17" font-weight="bold" fill="#000" >CD<tspan font-size="11" dy="4">2</tspan><tspan dy="-4">HOD</tspan></text>
<text transform="translate(538.4 99.9) rotate(-90)" font-size="17.6" font-weight="bold" fill="#000" >DMSO-<tspan font-style="italic">d</tspan><tspan font-size="11.5" dy="4">5</tspan></text>
<text x="47.6" y="259.6" font-size="17.5" font-weight="bold" fill="#000" text-anchor="start" >2'</text>
<text x="47.6" y="273.9" font-size="17.5" font-weight="bold" fill="#000" text-anchor="start" >6'</text>
<text x="153.5" y="259.1" font-size="17.5" font-weight="bold" fill="#000" text-anchor="start" >3'</text>
<text x="153.5" y="273.6" font-size="17.5" font-weight="bold" fill="#000" text-anchor="start" >5'</text>
<text x="165" y="288.5" font-size="17.5" font-weight="bold" fill="#000" text-anchor="start" >8</text>
<text x="188.5" y="289.8" font-size="17.5" font-weight="bold" fill="#000" text-anchor="start" >6</text>
<text x="293.5" y="294.7" font-size="17.5" font-weight="bold" fill="#000" text-anchor="start" >1''</text>
<text x="313.5" y="302" font-size="17.5" font-weight="bold" fill="#000" text-anchor="start" >1</text>
<text x="327.5" y="302" font-size="17.5" font-weight="bold" fill="#000" text-anchor="start" >''''</text>
<text x="366" y="284" font-size="17.5" font-weight="bold" fill="#000" text-anchor="start" >1'''</text>
<text x="672" y="244.4" font-size="17.5" font-weight="bold" fill="#000" text-anchor="start" >6'''</text>
<line x1="12.4" y1="385.5" x2="711" y2="385.5" stroke="#444" stroke-width="0.9"/>
<line x1="51.5" y1="385.5" x2="51.5" y2="389" stroke="#444" stroke-width="0.7"/>
<text x="54.9" y="401.4" font-size="12.5" font-weight="normal" fill="#000" text-anchor="middle" >8.0</text>
<line x1="95.82" y1="385.5" x2="95.82" y2="389" stroke="#444" stroke-width="0.7"/>
<text x="99.22" y="401.4" font-size="12.5" font-weight="normal" fill="#000" text-anchor="middle" >7.5</text>
<line x1="140.14" y1="385.5" x2="140.14" y2="389" stroke="#444" stroke-width="0.7"/>
<text x="143.54" y="401.4" font-size="12.5" font-weight="normal" fill="#000" text-anchor="middle" >7.0</text>
<line x1="184.46" y1="385.5" x2="184.46" y2="389" stroke="#444" stroke-width="0.7"/>
<text x="187.86" y="401.4" font-size="12.5" font-weight="normal" fill="#000" text-anchor="middle" >6.5</text>
<line x1="228.78" y1="385.5" x2="228.78" y2="389" stroke="#444" stroke-width="0.7"/>
<text x="232.18" y="401.4" font-size="12.5" font-weight="normal" fill="#000" text-anchor="middle" >6.0</text>
<line x1="273.1" y1="385.5" x2="273.1" y2="389" stroke="#444" stroke-width="0.7"/>
<text x="276.5" y="401.4" font-size="12.5" font-weight="normal" fill="#000" text-anchor="middle" >5.5</text>
<line x1="317.42" y1="385.5" x2="317.42" y2="389" stroke="#444" stroke-width="0.7"/>
<text x="320.82" y="401.4" font-size="12.5" font-weight="normal" fill="#000" text-anchor="middle" >5.0</text>
<line x1="361.74" y1="385.5" x2="361.74" y2="389" stroke="#444" stroke-width="0.7"/>
<text x="365.14" y="401.4" font-size="12.5" font-weight="normal" fill="#000" text-anchor="middle" >4.5</text>
<line x1="406.06" y1="385.5" x2="406.06" y2="389" stroke="#444" stroke-width="0.7"/>
<text x="409.46" y="401.4" font-size="12.5" font-weight="normal" fill="#000" text-anchor="middle" >4.0</text>
<line x1="450.38" y1="385.5" x2="450.38" y2="389" stroke="#444" stroke-width="0.7"/>
<text x="453.78" y="401.4" font-size="12.5" font-weight="normal" fill="#000" text-anchor="middle" >3.5</text>
<line x1="494.7" y1="385.5" x2="494.7" y2="389" stroke="#444" stroke-width="0.7"/>
<text x="498.1" y="401.4" font-size="12.5" font-weight="normal" fill="#000" text-anchor="middle" >3.0</text>
<line x1="539.02" y1="385.5" x2="539.02" y2="389" stroke="#444" stroke-width="0.7"/>
<text x="542.42" y="401.4" font-size="12.5" font-weight="normal" fill="#000" text-anchor="middle" >2.5</text>
<line x1="583.34" y1="385.5" x2="583.34" y2="389" stroke="#444" stroke-width="0.7"/>
<text x="586.74" y="401.4" font-size="12.5" font-weight="normal" fill="#000" text-anchor="middle" >2.0</text>
<line x1="627.66" y1="385.5" x2="627.66" y2="389" stroke="#444" stroke-width="0.7"/>
<text x="631.06" y="401.4" font-size="12.5" font-weight="normal" fill="#000" text-anchor="middle" >1.5</text>
<line x1="671.98" y1="385.5" x2="671.98" y2="389" stroke="#444" stroke-width="0.7"/>
<text x="675.38" y="401.4" font-size="12.5" font-weight="normal" fill="#000" text-anchor="middle" >1.0</text>
<line x1="29.34" y1="385.5" x2="29.34" y2="387.2" stroke="#444" stroke-width="0.7"/>
<line x1="73.66" y1="385.5" x2="73.66" y2="387.2" stroke="#444" stroke-width="0.7"/>
<line x1="117.98" y1="385.5" x2="117.98" y2="387.2" stroke="#444" stroke-width="0.7"/>
<line x1="162.3" y1="385.5" x2="162.3" y2="387.2" stroke="#444" stroke-width="0.7"/>
<line x1="206.62" y1="385.5" x2="206.62" y2="387.2" stroke="#444" stroke-width="0.7"/>
<line x1="250.94" y1="385.5" x2="250.94" y2="387.2" stroke="#444" stroke-width="0.7"/>
<line x1="295.26" y1="385.5" x2="295.26" y2="387.2" stroke="#444" stroke-width="0.7"/>
<line x1="339.58" y1="385.5" x2="339.58" y2="387.2" stroke="#444" stroke-width="0.7"/>
<line x1="383.9" y1="385.5" x2="383.9" y2="387.2" stroke="#444" stroke-width="0.7"/>
<line x1="428.22" y1="385.5" x2="428.22" y2="387.2" stroke="#444" stroke-width="0.7"/>
<line x1="472.54" y1="385.5" x2="472.54" y2="387.2" stroke="#444" stroke-width="0.7"/>
<line x1="516.86" y1="385.5" x2="516.86" y2="387.2" stroke="#444" stroke-width="0.7"/>
<line x1="561.18" y1="385.5" x2="561.18" y2="387.2" stroke="#444" stroke-width="0.7"/>
<line x1="605.5" y1="385.5" x2="605.5" y2="387.2" stroke="#444" stroke-width="0.7"/>
<line x1="649.82" y1="385.5" x2="649.82" y2="387.2" stroke="#444" stroke-width="0.7"/>
<line x1="694.14" y1="385.5" x2="694.14" y2="387.2" stroke="#444" stroke-width="0.7"/>
<text x="691" y="401.1" font-size="12" font-weight="normal" fill="#000" text-anchor="start" >ppm</text>
<line x1="28.2" y1="1005.2" x2="696.6" y2="1005.2" stroke="#000" stroke-width="1.8"/>
<line x1="28.2" y1="1005" x2="28.2" y2="1015" stroke="#000" stroke-width="1.6"/>
<text x="26.7" y="1034.6" font-size="18" font-weight="normal" fill="#000" text-anchor="middle" >3.9</text>
<line x1="104.18" y1="1005" x2="104.18" y2="1015" stroke="#000" stroke-width="1.6"/>
<text x="102.45" y="1034.6" font-size="18" font-weight="normal" fill="#000" text-anchor="middle" >3.8</text>
<line x1="180.15" y1="1005" x2="180.15" y2="1015" stroke="#000" stroke-width="1.6"/>
<text x="178.2" y="1034.6" font-size="18" font-weight="normal" fill="#000" text-anchor="middle" >3.7</text>
<line x1="256.13" y1="1005" x2="256.13" y2="1015" stroke="#000" stroke-width="1.6"/>
<text x="253.95" y="1034.6" font-size="18" font-weight="normal" fill="#000" text-anchor="middle" >3.6</text>
<line x1="332.1" y1="1005" x2="332.1" y2="1015" stroke="#000" stroke-width="1.6"/>
<text x="329.7" y="1034.6" font-size="18" font-weight="normal" fill="#000" text-anchor="middle" >3.5</text>
<line x1="408.07" y1="1005" x2="408.07" y2="1015" stroke="#000" stroke-width="1.6"/>
<text x="405.45" y="1034.6" font-size="18" font-weight="normal" fill="#000" text-anchor="middle" >3.4</text>
<line x1="484.05" y1="1005" x2="484.05" y2="1015" stroke="#000" stroke-width="1.6"/>
<text x="481.2" y="1034.6" font-size="18" font-weight="normal" fill="#000" text-anchor="middle" >3.3</text>
<line x1="560.03" y1="1005" x2="560.03" y2="1015" stroke="#000" stroke-width="1.6"/>
<text x="556.95" y="1034.6" font-size="18" font-weight="normal" fill="#000" text-anchor="middle" >3.2</text>
<line x1="636" y1="1005" x2="636" y2="1015" stroke="#000" stroke-width="1.6"/>
<text x="632.7" y="1034.6" font-size="18" font-weight="normal" fill="#000" text-anchor="middle" >3.1</text>
<line x1="66.19" y1="1005" x2="66.19" y2="1010.2" stroke="#000" stroke-width="1.6"/>
<line x1="142.16" y1="1005" x2="142.16" y2="1010.2" stroke="#000" stroke-width="1.6"/>
<line x1="218.14" y1="1005" x2="218.14" y2="1010.2" stroke="#000" stroke-width="1.6"/>
<line x1="294.11" y1="1005" x2="294.11" y2="1010.2" stroke="#000" stroke-width="1.6"/>
<line x1="370.09" y1="1005" x2="370.09" y2="1010.2" stroke="#000" stroke-width="1.6"/>
<line x1="446.06" y1="1005" x2="446.06" y2="1010.2" stroke="#000" stroke-width="1.6"/>
<line x1="522.04" y1="1005" x2="522.04" y2="1010.2" stroke="#000" stroke-width="1.6"/>
<line x1="598.01" y1="1005" x2="598.01" y2="1010.2" stroke="#000" stroke-width="1.6"/>
<line x1="673.99" y1="1005" x2="673.99" y2="1010.2" stroke="#000" stroke-width="1.6"/>
<text x="663" y="1039.1" font-size="18.5" font-weight="normal" fill="#000" text-anchor="start" >ppm</text>
<path d="M27.7 589.5 L60 589.3 L99.4 588.7 L105.5 585.2 L110.4 581.7 L113.1 577.6 L115.2 556.8 L118 548.2 L120.1 561 L121.9 577.6 L124.6 581 L127 579.6 L129 569.3 L130.7 540 L132.5 539.3 L133.9 542.1 L136.2 566.5 L138 578.9 L141.5 584.5 L147 586.5 L163.6 586.1 L178.8 586.5 L185.8 587.9 L195 587.4 L204.1 586.5 L211 584.6 L215 581.7 L217.3 574.9 L219 564.6 L220.4 539.4 L221.5 516.6 L223.6 524.5 L225.6 513.1 L227.6 537.1 L229.5 559.4 L231.8 544.6 L235 574.3 L237.1 577.6 L240.1 566.9 L241.6 531.4 L243.9 525.1 L246.4 539.4 L250.1 563.9 L252.1 548.6 L253.9 506.9 L255.6 528 L257.6 563.4 L260.4 551.4 L263.2 570.2 L267 545.1 L269.9 572.6 L271.6 580 L274.6 583.4 L278.6 578.3 L282.8 553.7 L286 571.9 L290 545.1 L293.4 567.9 L295.1 560 L297.8 522.1 L301.1 555.4 L305.7 499.4 L308.3 537.1 L310.6 562.8 L313.2 555.4 L315.7 569.1 L318.6 580.6 L322.6 584.6 L330.6 586.9 L343.1 587.4 L359.3 587.1 L366.4 585.7 L370 583.6 L372.1 575.7 L374.3 563.6 L376.7 562.3 L379.7 567.6 L382.4 555.7 L384.7 540 L386.9 505.7 L388.3 521.9 L390.4 515.7 L393.9 537.6 L396.4 517.1 L398.6 465.7 L400.7 481.9 L402.9 470.7 L404.3 484.3 L407.9 552.9 L411 562.6 L414.3 552.1 L416 557.6 L418.1 550.7 L422.1 568.4 L426.4 551.4 L428.9 565.5 L430.7 560.7 L433.6 570.7 L436.9 576.2 L439.3 557.1 L441.9 520.7 L445 560.5 L448.3 532.1 L449.7 533.6 L452.9 459.3 L455 485.7 L457.4 541.2 L460 520.2 L461.7 527.6 L464.3 480.7 L467.1 527.1 L470 566.9 L474 536.4 L478.6 568.4 L482.1 547.9 L484 556.9 L486.1 547.1 L490.7 575.5 L495 555 L497.9 574.3 L500.7 581.4 L507.9 585.5 L512.9 580 L515 570 L517.9 544.3 L520.7 572.9 L523.1 579.1 L525.3 572.9 L529.6 530 L532.9 565.7 L535.7 579.1 L540.7 558.6 L544.3 578.6 L548.6 584.3 L552.1 585 L556.4 584.3 L561.4 585.7 L567.9 581.4 L572.9 576.4 L576.4 567.9 L578.6 535.7 L579.3 492.9 L579.7 457.9" fill="none" stroke="#000" stroke-width="2.4" stroke-linejoin="round" stroke-linecap="butt"/>
<path d="M590.7 457.9 L591.4 507.1 L592.1 535.7 L594.3 562.9 L597.1 574.3 L600.7 579.1 L603.6 571.4 L606.4 541.4 L608.6 567.1 L610.7 577.1 L612.9 577.9 L615.3 568.6 L618.1 510.7 L620 541.4 L622.1 574.3 L625 579.8 L627.1 577.1 L630.3 553.6 L632.9 572.9 L635 583.6 L639.3 585.7 L645 586.4 L652.1 587.1 L668.7 587.7 L674.3 586 L680.9 587.9 L689.8 588.8 L695.8 588.2" fill="none" stroke="#000" stroke-width="2.4" stroke-linejoin="round" stroke-linecap="butt"/>
<path d="M27.7 962.9 L60 962.8 L100 961.7 L108.3 960 L111.8 955.9 L113.8 947.6 L115.2 922.7 L116.9 923.4 L118.4 921.7 L120 939.3 L122.1 953.1 L124.9 957 L127.7 953.1 L129.7 936.5 L131.1 914.4 L132.8 915.7 L134.3 913.7 L136 936.5 L138 953.1 L141.5 959.3 L147 961.4 L169.2 962.1 L200 961.4 L208.7 959.7 L214.4 957.4 L217.3 952.9 L219.6 936.9 L221.5 889.4 L224.1 905.4 L226.1 884.9 L228.1 927.7 L229.6 937.4 L232.1 920.3 L234.4 941.4 L236.7 952.2 L239 946 L241.3 907.1 L243.6 900.3 L245.3 916.9 L247 918.6 L249.9 941.9 L251.6 930 L253.9 876.9 L257.3 940.2 L259.9 923.1 L263.6 947.6 L266.8 912.3 L269.4 949.4 L271.4 955.7 L274.9 957.4 L278.9 952.9 L282.6 921.4 L286.3 949.9 L290.3 914 L293.4 945.9 L295.4 936.9 L297.9 887.7 L301.7 937.9 L305.7 866 L310.3 943.1 L313.5 927.1 L316 950.6 L319.4 958.6 L325.1 960.9 L348 962 L361 960.7 L367.7 958.7 L371 955.3 L373 946 L374.6 936.7 L377 935.9 L379.9 944.5 L383.7 928.7 L385 912.7 L386.7 880 L388.7 904.5 L390.7 890 L393.3 917.8 L395 912.7 L396.7 880.7 L398.3 841.3 L400.3 861.2 L402.3 848 L404.3 863.3 L407.7 932.7 L411.7 943.2 L414.1 926 L415.7 933.8 L417.9 924.7 L421.3 945.3 L423.3 943.3 L426.7 926 L429.1 943.2 L431.3 936.7 L433.3 944 L434.9 944.7 L437.3 949.8 L439.3 943.3 L441.7 896 L445.3 936.5 L448 906.1 L449.6 910.5 L452.4 849.7 L454.9 878 L458 915.2 L460 899.3 L461.7 910.5 L464 858 L466.9 910 L470 944.5 L474 905.3 L478.7 946.5 L482.4 918 L484.7 936.5 L487.1 919.3 L491.3 952.5 L495.3 926 L498.3 954.7 L501 958.7 L506.3 960 L511.7 958.7 L515 954 L517.9 918 L523 955.2 L526.3 947.3 L529.4 909.3 L533 950 L536.3 955.8 L540.3 933.3 L544.6 958 L549.7 960.7 L561.7 962 L588 961.8 L597 960 L601.5 957.5 L604.2 947.1 L606.9 919.2 L609.6 951.6 L612.3 956.6 L615 948.9 L616.8 925.5 L618.6 886.9 L621.2 939.9 L623 954.3 L625.4 957.5 L627.9 952.5 L630.6 929.1 L632.9 950.7 L635.6 958.8 L641.9 961.2 L659.9 962.4 L695.9 962.4" fill="none" stroke="#000" stroke-width="2.4" stroke-linejoin="round" stroke-linecap="butt"/>
<path d="M104.1 799.35 L104.5 799.3 L104.9 799.26 L105.3 799.21 L105.7 799.15 L106.1 799.09 L106.5 799.02 L106.9 798.94 L107.3 798.85 L107.7 798.75 L108.1 798.63 L108.5 798.49 L108.9 798.33 L109.3 798.15 L109.7 797.92 L110.1 797.65 L110.5 797.32 L110.9 796.89 L111.3 796.32 L111.7 795.52 L112.1 794.29 L112.5 792.35 L112.9 789.3 L113.3 784.72 L113.7 778.37 L114.1 770.46 L114.5 762.08 L114.8 756.83 L114.9 755.53 L115.1 753.8 L115.3 753.29 L115.4 753.44 L115.7 754.95 L116.1 757.37 L116.5 758 L116.9 756.29 L117.1 754.97 L117.3 753.83 L117.4 753.46 L117.7 753.8 L118 756.8 L118.1 758.34 L118.3 762 L118.5 766.1 L118.9 774.38 L119.3 781.5 L119.7 786.88 L120.1 790.58 L120.5 792.95 L120.9 794.42 L121.3 795.33 L121.7 795.91 L122.1 796.31 L122.5 796.58 L122.9 796.76 L123.3 796.88 L123.7 796.93 L124.1 796.92 L124.5 796.86 L124.9 796.73 L125.3 796.53 L125.7 796.25 L126.1 795.84 L126.5 795.26 L126.9 794.36 L127.3 792.94 L127.7 790.64 L128.1 787.02 L128.5 781.65 L128.9 774.36 L129.3 765.56 L129.6 758.81 L129.7 756.73 L129.9 753.16 L130.1 750.66 L130.2 749.9 L130.5 749.53 L130.8 751.17 L130.9 751.89 L131.3 754.2 L131.7 754.19 L132.1 751.87 L132.2 751.15 L132.5 749.51 L132.8 749.9 L132.9 750.67 L133.1 753.19 L133.3 756.79 L133.4 758.88 L133.7 765.68 L134.1 774.55 L134.5 781.91 L134.9 787.35 L135.3 791.04 L135.7 793.4 L136.1 794.89 L136.5 795.86 L136.9 796.52 L137.3 797.01 L137.7 797.4 L138.1 797.71 L138.5 797.96 L138.9 798.17 L139.3 798.35 L139.7 798.51 L140.1 798.64 L140.5 798.75 L140.9 798.85 L141.3 798.94 L141.7 799.02 L142.1 799.09 L142.5 799.15 L142.9 799.2 L143.3 799.25 L143.7 799.3 L144.1 799.34 L144.5 799.38 L144.9 799.41 L145.3 799.44" fill="none" stroke="#4a7d28" stroke-width="1.6" stroke-linejoin="round"/>
<path d="M204.4 799.15 L204.8 799.11 L205.2 799.07 L205.6 799.03 L206 798.98 L206.4 798.93 L206.8 798.88 L207.2 798.82 L207.6 798.76 L208 798.69 L208.4 798.61 L208.8 798.53 L209.2 798.44 L209.6 798.35 L210 798.24 L210.4 798.12 L210.8 797.99 L211.2 797.85 L211.6 797.69 L212 797.51 L212.4 797.31 L212.8 797.09 L213.2 796.83 L213.6 796.54 L214 796.2 L214.4 795.79 L214.8 795.3 L215.2 794.69 L215.6 793.9 L216 792.86 L216.4 791.44 L216.8 789.49 L217.2 786.83 L217.6 783.25 L218 778.58 L218.4 772.69 L218.8 765.59 L219.2 757.44 L219.6 748.67 L220 740.05 L220.4 732.72 L220.7 728.89 L220.8 728.03 L221 727 L221.2 726.9 L221.3 727.19 L221.6 729.21 L222 733.75 L222.4 738.92 L222.8 743.32 L223.2 746.02 L223.6 746.5 L224 744.66 L224.4 740.81 L224.8 735.69 L225.2 730.47 L225.4 728.32 L225.6 726.74 L225.7 726.23 L226 726 L226.3 727.9 L226.4 728.99 L226.6 731.77 L226.8 735.23 L227.2 743.48 L227.6 752.43 L228 761.09 L228.4 768.87 L228.8 775.47 L229.2 780.82 L229.6 784.98 L230 788.12 L230.4 790.44 L230.8 792.12 L231.2 793.36 L231.6 794.27 L232 794.97 L232.4 795.52 L232.8 795.97 L233.2 796.35 L233.6 796.67 L234 796.94 L234.4 797.19 L234.8 797.4 L235.2 797.59 L235.6 797.76 L236 797.91 L236.4 798.05 L236.8 798.17 L237.2 798.28 L237.6 798.39 L238 798.48 L238.4 798.57 L238.8 798.64 L239.2 798.72 L239.6 798.78 L240 798.84 L240.4 798.9 L240.8 798.95 L241.2 799 L241.6 799.05 L242 799.09 L242.4 799.13 L242.8 799.17 L243.2 799.2 L243.6 799.23 L244 799.26 L244.4 799.29 L244.8 799.32 L245.2 799.35 L245.6 799.37 L246 799.39 L246.4 799.41" fill="none" stroke="#2f3e58" stroke-width="1.6" stroke-linejoin="round"/>
<path d="M218.2 799.49 L218.6 799.47 L219 799.44 L219.4 799.41 L219.8 799.38 L220.2 799.35 L220.6 799.32 L221 799.28 L221.4 799.23 L221.8 799.19 L222.2 799.14 L222.6 799.08 L223 799.01 L223.4 798.94 L223.8 798.86 L224.2 798.77 L224.6 798.67 L225 798.55 L225.4 798.42 L225.8 798.26 L226.2 798.08 L226.6 797.86 L227 797.58 L227.4 797.23 L227.8 796.76 L228.2 796.1 L228.6 795.12 L229 793.69 L229.4 791.59 L229.8 788.64 L230.2 784.68 L230.6 779.69 L231 773.86 L231.4 767.74 L231.8 762.31 L232.1 759.54 L232.2 758.98 L232.4 758.5 L232.6 758.91 L232.7 759.43 L233 762.11 L233.4 767.39 L233.8 773.37 L234.2 779.04 L234.6 783.87 L235 787.65 L235.4 790.41 L235.8 792.28 L236.2 793.47 L236.6 794.16 L237 794.48 L237.4 794.54 L237.8 794.37 L238.2 793.94 L238.6 793.17 L239 791.92 L239.4 789.95 L239.8 786.98 L240.2 782.72 L240.6 776.95 L241 769.65 L241.4 761.1 L241.8 752.09 L242.2 744.12 L242.5 740.07 L242.6 739.26 L242.8 738.6 L243 739.25 L243.1 740.06 L243.4 744.1 L243.8 752.06 L244.2 761.04 L244.6 769.57 L245 776.86 L245.4 782.61 L245.8 786.84 L246.2 789.77 L246.6 791.71 L247 792.91 L247.4 793.62 L247.8 793.95 L248.2 793.98 L248.6 793.69 L249 793.01 L249.4 791.78 L249.8 789.83 L250.2 786.94 L250.6 782.97 L251 777.9 L251.4 771.94 L251.8 765.65 L252.2 760.09 L252.5 757.28 L252.6 756.73 L252.8 756.3 L253 756.8 L253.1 757.39 L253.4 760.32 L253.8 766.04 L254.2 772.48 L254.6 778.62 L255 783.87 L255.4 788.05 L255.8 791.15 L256.2 793.36 L256.6 794.87 L257 795.9 L257.4 796.6 L257.8 797.1 L258.2 797.47 L258.6 797.75 L259 797.99 L259.4 798.18 L259.8 798.35 L260.2 798.49 L260.6 798.61 L261 798.72 L261.4 798.81 L261.8 798.9 L262.2 798.97 L262.6 799.04 L263 799.1 L263.4 799.15 L263.8 799.2 L264.2 799.25 L264.6 799.29 L265 799.33 L265.4 799.36 L265.8 799.39 L266.2 799.42 L266.6 799.45" fill="none" stroke="#6a25a0" stroke-width="1.6" stroke-linejoin="round"/>
<path d="M234.3 799.38 L234.7 799.35 L235.1 799.31 L235.5 799.28 L235.9 799.23 L236.3 799.19 L236.7 799.14 L237.1 799.08 L237.5 799.02 L237.9 798.95 L238.3 798.88 L238.7 798.79 L239.1 798.69 L239.5 798.58 L239.9 798.45 L240.3 798.3 L240.7 798.12 L241.1 797.91 L241.5 797.66 L241.9 797.34 L242.3 796.93 L242.7 796.34 L243.1 795.49 L243.5 794.2 L243.9 792.23 L244.3 789.32 L244.7 785.23 L245.1 779.88 L245.5 773.47 L245.9 766.64 L246.2 762.02 L246.3 760.72 L246.5 758.69 L246.7 757.57 L246.8 757.4 L247.1 758.49 L247.4 761.63 L247.5 763 L247.9 769.3 L248.3 775.74 L248.7 781.34 L249.1 785.68 L249.5 788.69 L249.9 790.5 L250.3 791.27 L250.7 791.11 L251.1 789.99 L251.5 787.78 L251.9 784.26 L252.3 779.29 L252.7 772.94 L253.1 765.65 L253.5 758.49 L253.6 756.93 L253.9 753.3 L254.2 751.9 L254.3 752.01 L254.5 753.1 L254.7 755.18 L254.8 756.52 L255.1 761.32 L255.5 768.35 L255.9 774.76 L256.3 779.7 L256.7 782.78 L257.1 783.83 L257.5 782.84 L257.9 779.83 L258.3 774.97 L258.7 768.65 L259.1 761.72 L259.4 756.98 L259.5 755.66 L259.7 753.6 L259.9 752.52 L260 752.4 L260.3 753.75 L260.6 757.3 L260.7 758.83 L261.1 765.82 L261.5 772.94 L261.9 779.12 L262.3 783.9 L262.7 787.19 L263.1 789.12 L263.5 789.8 L263.9 789.32 L264.3 787.59 L264.7 784.46 L265.1 779.77 L265.5 773.54 L265.9 766.14 L266.3 758.53 L266.5 755.18 L266.7 752.49 L266.8 751.49 L267.1 750.2 L267.4 751.7 L267.5 752.77 L267.7 755.61 L267.9 759.11 L268.3 767.02 L268.7 774.76 L269.1 781.39 L269.5 786.54 L269.9 790.28 L270.3 792.83 L270.7 794.51 L271.1 795.61 L271.5 796.35 L271.9 796.88 L272.3 797.27" fill="none" stroke="#4a7d28" stroke-width="1.6" stroke-linejoin="round"/>
<path d="M285.5 798.23 L285.9 798.13 L286.3 798.01 L286.7 797.89 L287.1 797.76 L287.5 797.61 L287.9 797.44 L288.3 797.26 L288.7 797.05 L289.1 796.82 L289.5 796.55 L289.9 796.24 L290.3 795.88 L290.7 795.44 L291.1 794.9 L291.5 794.21 L291.9 793.3 L292.3 792.1 L292.7 790.49 L293.1 788.33 L293.5 785.49 L293.9 781.84 L294.3 777.3 L294.7 771.88 L295.1 765.71 L295.5 759.11 L295.9 752.67 L296.3 747.3 L296.6 744.61 L296.7 744.05 L296.9 743.5 L297.1 743.71 L297.2 744.1 L297.5 746.27 L297.9 750.92 L298.3 756.59 L298.7 762.31 L299.1 767.47 L299.5 771.64 L299.9 774.59 L300.3 776.17 L300.7 776.26 L301.1 774.76 L301.5 771.58 L301.9 766.64 L302.3 759.91 L302.7 751.48 L303.1 741.66 L303.5 731.03 L303.9 720.64 L304.3 712.04 L304.6 707.88 L304.7 707.07 L304.9 706.4 L305.1 707.05 L305.2 707.85 L305.5 711.98 L305.9 720.53 L306.3 730.86 L306.7 741.41 L307.1 751.13 L307.5 759.4 L307.9 765.92 L308.3 770.58 L308.7 773.37 L309.1 774.39 L309.5 773.72 L309.9 771.51 L310.3 767.92 L310.7 763.2 L311.1 757.73 L311.5 752.09 L311.9 747.18 L312 746.19 L312.3 744.07 L312.6 743.5 L312.7 743.69 L312.9 744.63 L313.1 746.28 L313.2 747.33 L313.5 751.22 L313.9 757.48 L314.3 764.1 L314.7 770.4 L315.1 776.02 L315.5 780.77 L315.9 784.63 L316.3 787.66 L316.7 789.97 L317.1 791.7 L317.5 793 L317.9 793.97 L318.3 794.7 L318.7 795.28 L319.1 795.74 L319.5 796.13 L319.9 796.45 L320.3 796.73 L320.7 796.97 L321.1 797.19 L321.5 797.38 L321.9 797.55 L322.3 797.7 L322.7 797.84 L323.1 797.97 L323.5 798.08 L323.9 798.19 L324.3 798.28 L324.7 798.37" fill="none" stroke="#ec701f" stroke-width="1.6" stroke-linejoin="round"/>
<path d="M271.1 799.36 L271.5 799.33 L271.9 799.29 L272.3 799.24 L272.7 799.2 L273.1 799.14 L273.5 799.08 L273.9 799.01 L274.3 798.94 L274.7 798.85 L275.1 798.76 L275.5 798.64 L275.9 798.52 L276.3 798.37 L276.7 798.19 L277.1 797.98 L277.5 797.72 L277.9 797.39 L278.3 796.95 L278.7 796.32 L279.1 795.39 L279.5 793.97 L279.9 791.81 L280.3 788.65 L280.7 784.29 L281.1 778.68 L281.5 772.12 L281.9 765.43 L282.1 762.46 L282.3 760.07 L282.4 759.16 L282.7 757.9 L283 759.01 L283.1 759.86 L283.3 762.16 L283.5 765.02 L283.9 771.5 L284.3 777.82 L284.7 783.17 L285.1 787.24 L285.5 790.04 L285.9 791.75 L286.3 792.58 L286.7 792.66 L287.1 792.02 L287.5 790.53 L287.9 788 L288.3 784.18 L288.7 778.95 L289.1 772.44 L289.5 765.24 L289.9 758.57 L290.2 755.08 L290.3 754.37 L290.5 753.8 L290.7 754.39 L290.8 755.1 L291.1 758.61 L291.5 765.3 L291.9 772.54 L292.3 779.08 L292.7 784.37 L293.1 788.26 L293.5 790.89 L293.9 792.54 L294.3 793.45 L294.7 793.83 L295.1 793.74 L295.5 793.18 L295.9 792.01 L296.3 790.03 L296.7 787 L297.1 782.78 L297.5 777.4 L297.9 771.25 L298.3 765.24 L298.4 763.93 L298.7 760.91 L299 759.8 L299.1 759.93 L299.3 760.91 L299.5 762.76 L299.6 763.94 L299.9 768.17 L300.3 774.41 L300.7 780.26 L301.1 785.08 L301.5 788.69 L301.9 791.16 L302.3 792.68 L302.7 793.46 L303.1 793.64 L303.5 793.27 L303.9 792.24 L304.3 790.39 L304.7 787.46 L305.1 783.28 L305.5 777.81 L305.9 771.36 L306.3 764.76 L306.5 761.85 L306.7 759.51 L306.8 758.64 L307.1 757.5 L307.4 758.76 L307.5 759.68 L307.7 762.09 L307.9 765.09 L308.3 771.87 L308.7 778.5 L309.1 784.17 L309.5 788.59 L309.9 791.78 L310.3 793.96 L310.7 795.4 L311.1 796.34 L311.5 796.97 L311.9 797.41 L312.3 797.74 L312.7 798 L313.1 798.21 L313.5 798.39 L313.9 798.54 L314.3 798.66 L314.7 798.77 L315.1 798.87 L315.5 798.96 L315.9 799.03 L316.3 799.1 L316.7 799.16 L317.1 799.21 L317.5 799.26 L317.9 799.3 L318.3 799.34 L318.7 799.37 L319.1 799.41 L319.5 799.44 L319.9 799.47 L320.3 799.49" fill="none" stroke="#4a7d28" stroke-width="1.6" stroke-linejoin="round"/>
<path d="M366.1 799 L366.5 798.92 L366.9 798.83 L367.3 798.73 L367.7 798.61 L368.1 798.47 L368.5 798.3 L368.9 798.09 L369.3 797.82 L369.7 797.46 L370.1 796.94 L370.5 796.18 L370.9 795.03 L371.3 793.37 L371.7 791.04 L372.1 788.01 L372.5 784.36 L372.9 780.42 L373.2 777.68 L373.3 776.88 L373.5 775.54 L373.7 774.66 L373.8 774.4 L374.1 774.37 L374.4 775.22 L374.5 775.62 L374.9 777.26 L375.3 778.3 L375.7 778.17 L376.1 776.84 L376.5 774.74 L376.7 773.68 L376.9 772.82 L377 772.52 L377.3 772.3 L377.6 773.27 L377.7 773.84 L377.9 775.29 L378.1 777.01 L378.5 780.77 L378.9 784.27 L379.3 787 L379.7 788.69 L380.1 789.23 L380.5 788.58 L380.9 786.77 L381.3 783.93 L381.7 780.29 L382.1 776.35 L382.3 774.51 L382.5 772.93 L382.6 772.28 L382.9 771 L383.2 770.81 L383.3 770.95 L383.5 771.43 L383.7 772.05 L384.1 773.06 L384.5 773.02 L384.9 771.51 L385.3 768.67 L385.7 765.26 L386 763.06 L386.1 762.52 L386.3 761.8 L386.5 761.61 L386.6 761.7 L386.9 762.54 L387.3 764.19 L387.7 765.41 L388.1 765.71 L388.3 765.56 L388.5 765.33 L388.6 765.21 L388.9 765 L389.2 765.13 L389.3 765.25 L389.5 765.55 L389.7 765.89 L390.1 766.55 L390.4 767.09 L390.5 767.32 L390.7 767.96 L390.9 768.9 L391 769.5 L391.3 771.87 L391.6 774.94 L391.7 776.06 L392.1 780.65 L392.5 784.93 L392.9 788.53 L393.3 791.33 L393.7 793.38 L394.1 794.81 L394.5 795.77 L394.9 796.41 L395.3 796.83 L395.7 797.11 L396.1 797.28 L396.5 797.35 L396.9 797.3 L397.3 797.09 L397.7 796.69 L398.1 796.02 L398.5 795.09 L398.9 793.9 L399.3 792.57 L399.7 791.34 L400 790.71 L400.1 790.58 L400.3 790.5 L400.5 790.64 L400.6 790.79 L400.9 791.51 L401.3 792.86 L401.7 794.31 L402.1 795.63 L402.5 796.71 L402.9 797.52 L403.3 798.09 L403.7 798.48 L404.1 798.74 L404.5 798.92 L404.9 799.04 L405.3 799.14 L405.7 799.21 L406.1 799.28 L406.5 799.33 L406.9 799.37 L407.3 799.41 L407.7 799.45 L408.1 799.48 L408.5 799.51 L408.9 799.54 L409.3 799.56" fill="none" stroke="#ec701f" stroke-width="1.6" stroke-linejoin="round"/>
<path d="M394 798.66 L394.4 798.52 L394.8 798.36 L395.2 798.16 L395.6 797.9 L396 797.55 L396.4 797.06 L396.8 796.35 L397.2 795.29 L397.6 793.77 L398 791.66 L398.4 788.87 L398.8 785.42 L399.2 781.49 L399.6 777.48 L399.9 774.86 L400 774.14 L400.2 773.01 L400.4 772.4 L400.5 772.3 L400.8 772.87 L401.1 774.58 L401.2 775.33 L401.6 778.92 L402 782.74 L402.4 786.22 L402.8 789.06 L403.2 791.16 L403.6 792.49 L404 793.12 L404.4 793.08 L404.8 792.34 L405.2 790.87 L405.6 788.6 L406 785.48 L406.4 781.62 L406.8 777.26 L407.2 772.98 L407.4 771.14 L407.6 769.68 L407.7 769.14 L408 768.4 L408.3 769.1 L408.4 769.63 L408.6 771.07 L408.8 772.88 L409.2 777.12 L409.6 781.43 L410 785.26 L410.4 788.35 L410.8 790.62 L411.2 792.13 L411.6 792.97 L412 793.24 L412.4 792.96 L412.8 792.11 L413.2 790.62 L413.6 788.37 L414 785.29 L414.4 781.37 L414.8 776.8 L415.2 771.97 L415.5 768.61 L415.6 767.62 L415.8 765.91 L416 764.64 L416.1 764.2 L416.4 763.6 L416.7 763.87 L416.8 764.08 L417.2 765.03 L417.6 765.5 L418 765.06 L418.4 763.89 L418.7 762.95 L418.8 762.72 L419 762.5 L419.2 762.71 L419.3 763 L419.6 764.68 L419.9 767.44 L420 768.54 L420.4 773.39 L420.8 778.32 L421.2 782.75 L421.6 786.37 L422 789.08 L422.4 790.93 L422.8 791.98 L423.2 792.31 L423.6 791.94 L424 790.84 L424.4 788.92 L424.8 786.13 L425.2 782.46 L425.6 778.1 L426 773.47 L426.4 769.37 L426.7 767.31 L426.8 766.9 L427 766.6 L427.2 766.99 L427.3 767.44 L427.6 769.64 L428 773.93 L428.4 778.75 L428.8 783.33 L429.2 787.24 L429.6 790.32 L430 792.59 L430.4 794.16 L430.8 795.16 L431.2 795.73 L431.6 795.96 L432 795.88 L432.4 795.52 L432.8 794.86 L433.2 793.94 L433.6 792.8 L434 791.58 L434.4 790.49 L434.7 789.95 L434.8 789.85 L435 789.8 L435.2 789.94 L435.3 790.08 L435.6 790.75 L436 792.02 L436.4 793.44 L436.8 794.79 L437.2 795.94 L437.6 796.87 L438 797.56 L438.4 798.06 L438.8 798.41 L439.2 798.65" fill="none" stroke="#ec701f" stroke-width="1.6" stroke-linejoin="round"/>
<path d="M377.8 797.71 L378.2 797.52 L378.6 797.31 L379 797.07 L379.4 796.79 L379.8 796.46 L380.2 796.07 L380.6 795.58 L381 794.97 L381.4 794.14 L381.8 792.98 L382.2 791.31 L382.6 788.87 L383 785.38 L383.4 780.54 L383.8 774.16 L384.2 766.27 L384.6 757.25 L385 748.03 L385.3 741.92 L385.4 740.21 L385.6 737.48 L385.8 735.86 L385.9 735.5 L386.2 736.27 L386.5 739.38 L386.6 740.79 L387 747.28 L387.4 753.51 L387.8 757.88 L388.2 759.47 L388.6 757.94 L389 753.48 L389.4 746.89 L389.8 739.6 L390 736.35 L390.2 733.78 L390.3 732.85 L390.6 731.8 L390.9 733.62 L391 734.83 L391.2 737.99 L391.4 741.92 L391.8 750.97 L392.2 760.11 L392.6 768.18 L393 774.63 L393.4 779.28 L393.8 782.18 L394.2 783.46 L394.6 783.19 L395 781.35 L395.4 777.82 L395.8 772.48 L396.2 765.3 L396.6 756.53 L397 746.9 L397.4 737.79 L397.5 735.83 L397.8 731.29 L398.1 729.4 L398.2 729.44 L398.4 730.5 L398.6 732.71 L398.7 734.16 L399 739.43 L399.4 747.08 L399.8 753.61 L400.2 757.66 L400.6 758.54 L401 756.12 L401.4 750.81 L401.8 743.61 L402.2 736.26 L402.3 734.66 L402.6 731.13 L402.9 730.2 L403 730.56 L403.2 732.29 L403.4 735.23 L403.5 737.08 L403.8 743.7 L404.2 753.71 L404.6 763.51 L405 772.09 L405.4 779.02 L405.8 784.28 L406.2 788.07 L406.6 790.71 L407 792.52 L407.4 793.77 L407.8 794.66 L408.2 795.33 L408.6 795.85 L409 796.27 L409.4 796.62 L409.8 796.92 L410.2 797.18" fill="none" stroke="#c20000" stroke-width="1.6" stroke-linejoin="round"/>
<path d="M393.6 797.08 L394 796.82 L394.4 796.52 L394.8 796.18 L395.2 795.79 L395.6 795.32 L396 794.78 L396.4 794.12 L396.8 793.29 L397.2 792.23 L397.6 790.78 L398 788.76 L398.4 785.85 L398.8 781.66 L399.2 775.74 L399.6 767.65 L400 757.08 L400.4 744.04 L400.8 728.99 L401.2 713.15 L401.5 701.99 L401.6 698.64 L401.8 692.76 L402 688.21 L402.1 686.5 L402.4 683.6 L402.7 683.58 L402.8 684.03 L403.2 686.96 L403.6 690.31 L404 693.58 L404.1 694.5 L404.4 697.94 L404.7 703 L404.8 705.13 L405 710.06 L405.2 715.78 L405.3 718.87 L405.6 728.71 L406 742.05 L406.4 754.34 L406.8 764.82 L407.2 773.25 L407.6 779.7 L408 784.42 L408.4 787.79 L408.8 790.15 L409.2 791.82 L409.6 793.03 L410 793.94 L410.4 794.65 L410.8 795.23 L411.2 795.71 L411.6 796.12" fill="none" stroke="#6a25a0" stroke-width="1.6" stroke-linejoin="round"/>
<path d="M433.2 798.65 L433.6 798.53 L434 798.4 L434.4 798.24 L434.8 798.07 L435.2 797.86 L435.6 797.61 L436 797.31 L436.4 796.93 L436.8 796.45 L437.2 795.78 L437.6 794.83 L438 793.42 L438.4 791.31 L438.8 788.24 L439.2 783.93 L439.6 778.21 L440 771.13 L440.4 763.14 L440.8 755.2 L441 751.76 L441.2 749 L441.3 747.96 L441.6 746.5 L441.9 747.7 L442 748.65 L442.2 751.22 L442.4 754.47 L442.8 762 L443.2 769.53 L443.6 776.02 L444 780.97 L444.4 784.21 L444.8 785.7 L445.2 785.48 L445.6 783.53 L446 779.84 L446.4 774.45 L446.8 767.6 L447.2 759.92 L447.6 752.61 L447.7 751.04 L448 747.5 L448.3 746.3 L448.4 746.5 L448.6 747.77 L448.8 750.09 L448.9 751.58 L449.2 756.94 L449.6 765.05 L450 772.91 L450.4 779.7 L450.8 785.08 L451.2 789.08 L451.6 791.89 L452 793.8 L452.4 795.09 L452.8 795.96 L453.2 796.57 L453.6 797.03 L454 797.38 L454.4 797.67 L454.8 797.91 L455.2 798.11 L455.6 798.28 L456 798.43 L456.4 798.56 L456.8 798.68 L457.2 798.78 L457.6 798.87 L458 798.95" fill="none" stroke="#c20000" stroke-width="1.6" stroke-linejoin="round"/>
<path d="M436.8 799.28 L437.2 799.24 L437.6 799.21 L438 799.17 L438.4 799.13 L438.8 799.08 L439.2 799.03 L439.6 798.98 L440 798.92 L440.4 798.86 L440.8 798.79 L441.2 798.72 L441.6 798.64 L442 798.55 L442.4 798.45 L442.8 798.34 L443.2 798.21 L443.6 798.08 L444 797.92 L444.4 797.75 L444.8 797.55 L445.2 797.32 L445.6 797.05 L446 796.75 L446.4 796.39 L446.8 795.97 L447.2 795.46 L447.6 794.84 L448 794.05 L448.4 793 L448.8 791.53 L449.2 789.33 L449.6 785.97 L450 780.83 L450.4 773.19 L450.8 762.44 L451.2 748.34 L451.6 731.42 L452 713.43 L452.3 701.28 L452.4 697.88 L452.6 692.56 L452.8 689.69 L452.9 689.3 L453.2 692.38 L453.5 700.92 L453.6 704.64 L454 721.72 L454.4 739.23 L454.8 754.59 L455.2 766.7 L455.6 775.47 L456 781.35 L456.4 784.99 L456.8 787.03 L457.2 787.88 L457.6 787.76 L458 786.64 L458.4 784.34 L458.8 780.61 L459.2 775.27 L459.6 768.35 L460 760.29 L460.4 752.11 L460.5 750.25 L460.8 745.62 L461.1 743 L461.2 742.64 L461.4 742.66 L461.6 743.46 L461.7 744.07 L462 746.2 L462.4 748.45 L462.8 748.73 L463.2 746.76 L463.6 743.52 L463.7 742.74 L464 741.15 L464.3 741.5 L464.4 742.16 L464.6 744.32 L464.8 747.47 L464.9 749.34 L465.2 755.71 L465.6 764.77 L466 773.15 L466.4 780.09 L466.8 785.39 L467.2 789.18 L467.6 791.78 L468 793.51 L468.4 794.67 L468.8 795.48 L469.2 796.07 L469.6 796.53 L470 796.9 L470.4 797.21 L470.8 797.47 L471.2 797.69 L471.6 797.88 L472 798.05 L472.4 798.2 L472.8 798.33 L473.2 798.45 L473.6 798.55 L474 798.64 L474.4 798.73 L474.8 798.81 L475.2 798.87 L475.6 798.94 L476 798.99 L476.4 799.05 L476.8 799.1 L477.2 799.14 L477.6 799.18 L478 799.22 L478.4 799.26 L478.8 799.29 L479.2 799.32 L479.6 799.35 L480 799.38 L480.4 799.4 L480.8 799.42 L481.2 799.45" fill="none" stroke="#c20000" stroke-width="1.6" stroke-linejoin="round"/>
<path d="M454.3 798.43 L454.7 798.23 L455.1 797.97 L455.5 797.64 L455.9 797.18 L456.3 796.49 L456.7 795.4 L457.1 793.63 L457.5 790.85 L457.9 786.75 L458.3 781.23 L458.7 774.64 L459.1 768.1 L459.4 764.45 L459.5 763.68 L459.7 763 L459.9 763.53 L460 764.22 L460.3 767.65 L460.7 773.87 L461.1 780.11 L461.5 785.22 L461.9 788.82 L462.3 790.94 L462.7 791.73 L463.1 791.3 L463.5 789.55 L463.9 786.17 L464.3 780.86 L464.7 773.51 L465.1 764.66 L465.5 755.84 L465.8 750.95 L465.9 749.94 L466.1 749.1 L466.3 749.93 L466.4 750.93 L466.7 755.8 L467.1 764.6 L467.5 773.42 L467.9 780.71 L468.3 785.93 L468.7 789.12 L469.1 790.55 L469.5 790.44 L469.9 788.84 L470.3 785.72 L470.7 781.11 L471.1 775.43 L471.5 769.73 L471.8 766.6 L471.9 765.97 L472.1 765.5 L472.3 766.15 L472.4 766.86 L472.7 770.26 L473.1 776.35 L473.5 782.47 L473.9 787.59 L474.3 791.4 L474.7 793.99 L475.1 795.64 L475.5 796.66 L475.9 797.3 L476.3 797.74 L476.7 798.05 L477.1 798.29" fill="none" stroke="#6a25a0" stroke-width="1.6" stroke-linejoin="round"/>
<path d="M465.7 799.08 L466.1 799 L466.5 798.92 L466.9 798.82 L467.3 798.71 L467.7 798.57 L468.1 798.42 L468.5 798.23 L468.9 798.01 L469.3 797.73 L469.7 797.36 L470.1 796.85 L470.5 796.09 L470.9 794.91 L471.3 793.06 L471.7 790.21 L472.1 786.09 L472.5 780.54 L472.9 773.8 L473.3 766.67 L473.5 763.44 L473.7 760.8 L473.8 759.79 L474.1 758.4 L474.4 759.67 L474.5 760.64 L474.7 763.2 L474.9 766.34 L475.3 773.29 L475.7 779.84 L476.1 785.18 L476.5 789.07 L476.9 791.65 L477.3 793.18 L477.7 793.96 L478.1 794.19 L478.5 793.93 L478.9 793.14 L479.3 791.64 L479.7 789.15 L480.1 785.42 L480.5 780.34 L480.9 774.11 L481.3 767.47 L481.5 764.44 L481.7 761.93 L481.8 760.96 L482.1 759.5 L482.4 760.43 L482.5 761.21 L482.7 763.31 L482.9 765.87 L483.3 771.26 L483.7 775.61 L484.1 777.89 L484.5 777.64 L484.9 774.94 L485.3 770.36 L485.7 765.1 L485.8 763.89 L486.1 761.08 L486.4 760.2 L486.5 760.43 L486.7 761.65 L486.9 763.78 L487 765.1 L487.3 769.71 L487.7 776.28 L488.1 782.2 L488.5 786.9 L488.9 790.29 L489.3 792.53 L489.7 793.89 L490.1 794.62 L490.5 794.9 L490.9 794.79 L491.3 794.24 L491.7 793.08 L492.1 791.11 L492.5 788.1 L492.9 783.96 L493.3 778.87 L493.7 773.47 L493.9 771.02 L494.1 769.03 L494.2 768.28 L494.5 767.3 L494.8 768.4 L494.9 769.19 L495.1 771.26 L495.3 773.79 L495.7 779.37 L496.1 784.64 L496.5 788.98 L496.9 792.21 L497.3 794.44 L497.7 795.89 L498.1 796.82 L498.5 797.42 L498.9 797.82 L499.3 798.12 L499.7 798.34 L500.1 798.52 L500.5 798.67 L500.9 798.8 L501.3 798.9 L501.7 799 L502.1 799.08 L502.5 799.15 L502.9 799.21 L503.3 799.26 L503.7 799.31 L504.1 799.35 L504.5 799.39 L504.9 799.43 L505.3 799.46 L505.7 799.49" fill="none" stroke="#4a7d28" stroke-width="1.6" stroke-linejoin="round"/>
<path d="M510.3 799.23 L510.7 799.16 L511.1 799.09 L511.5 799 L511.9 798.9 L512.3 798.79 L512.7 798.65 L513.1 798.48 L513.5 798.27 L513.9 797.99 L514.3 797.61 L514.7 797.05 L515.1 796.2 L515.5 794.9 L515.9 792.95 L516.3 790.16 L516.7 786.43 L517.1 781.86 L517.5 776.82 L517.9 772.16 L518.2 769.72 L518.3 769.22 L518.5 768.8 L518.7 769.18 L518.8 769.66 L519.1 772.05 L519.5 776.63 L519.9 781.59 L520.3 786.09 L520.7 789.73 L521.1 792.42 L521.5 794.27 L521.9 795.47 L522.3 796.19 L522.7 796.61 L523.1 796.84 L523.5 796.93 L523.9 796.94 L524.3 796.85 L524.7 796.69 L525.1 796.42 L525.5 796.01 L525.9 795.39 L526.3 794.4 L526.7 792.84 L527.1 790.41 L527.5 786.76 L527.9 781.6 L528.3 774.81 L528.7 766.66 L529.1 757.98 L529.4 752.13 L529.5 750.49 L529.7 747.94 L529.9 746.57 L530 746.4 L530.3 747.94 L530.6 752.13 L530.7 753.95 L531.1 762.31 L531.5 770.89 L531.9 778.42 L532.3 784.41 L532.7 788.78 L533.1 791.78 L533.5 793.74 L533.9 794.99 L534.3 795.78 L534.7 796.3 L535.1 796.64 L535.5 796.86 L535.9 797 L536.3 797.05 L536.7 797.03 L537.1 796.9 L537.5 796.63 L537.9 796.13 L538.3 795.29 L538.7 793.93 L539.1 791.88 L539.5 789 L539.9 785.28 L540.3 780.9 L540.7 776.43 L540.9 774.46 L541.1 772.87 L541.2 772.28 L541.5 771.5 L541.8 772.34 L541.9 772.95 L542.1 774.57 L542.3 776.58 L542.7 781.13 L543.1 785.58 L543.5 789.4 L543.9 792.36 L544.3 794.51 L544.7 795.97 L545.1 796.93 L545.5 797.56 L545.9 797.98 L546.3 798.27 L546.7 798.49 L547.1 798.67 L547.5 798.81 L547.9 798.92 L548.3 799.02 L548.7 799.11 L549.1 799.18 L549.5 799.24 L549.9 799.3 L550.3 799.35 L550.7 799.39 L551.1 799.43 L551.5 799.47 L551.9 799.5 L552.3 799.53 L552.7 799.56 L553.1 799.58" fill="none" stroke="#2f3e58" stroke-width="1.6" stroke-linejoin="round"/>
<path d="M596.5 799.32 L596.9 799.28 L597.3 799.23 L597.7 799.18 L598.1 799.12 L598.5 799.06 L598.9 798.98 L599.3 798.9 L599.7 798.81 L600.1 798.69 L600.5 798.57 L600.9 798.42 L601.3 798.24 L601.7 798.02 L602.1 797.75 L602.5 797.4 L602.9 796.91 L603.3 796.2 L603.7 795.11 L604.1 793.46 L604.5 790.98 L604.9 787.44 L605.3 782.71 L605.7 776.89 L606.1 770.49 L606.5 764.58 L606.8 761.47 L606.9 760.84 L607.1 760.3 L607.3 760.78 L607.4 761.38 L607.7 764.41 L608.1 770.21 L608.5 776.5 L608.9 782.19 L609.3 786.79 L609.7 790.19 L610.1 792.52 L610.5 794.01 L610.9 794.9 L611.3 795.4 L611.7 795.65 L612.1 795.72 L612.5 795.66 L612.9 795.49 L613.3 795.18 L613.7 794.7 L614.1 793.97 L614.5 792.84 L614.9 791.06 L615.3 788.25 L615.7 783.95 L616.1 777.68 L616.5 769.1 L616.9 758.3 L617.3 746.01 L617.7 734.02 L617.8 731.41 L618.1 725.4 L618.4 723.2 L618.5 723.45 L618.7 725.41 L618.9 729.07 L619 731.42 L619.3 739.83 L619.7 752.27 L620.1 763.98 L620.5 773.72 L620.9 781.13 L621.3 786.36 L621.7 789.86 L622.1 792.11 L622.5 793.54 L622.9 794.46 L623.3 795.07 L623.7 795.47 L624.1 795.73 L624.5 795.88 L624.9 795.92 L625.3 795.82 L625.7 795.55 L626.1 795.02 L626.5 794.09 L626.9 792.55 L627.3 790.17 L627.7 786.77 L628.1 782.26 L628.5 776.81 L628.9 771.01 L629.2 767.09 L629.3 766 L629.5 764.3 L629.7 763.4 L629.8 763.3 L630.1 764.38 L630.4 767.25 L630.5 768.5 L630.9 774.2 L631.3 780.04 L631.7 785.19 L632.1 789.28 L632.5 792.29 L632.9 794.37 L633.3 795.74 L633.7 796.64 L634.1 797.24 L634.5 797.65 L634.9 797.96 L635.3 798.2 L635.7 798.39 L636.1 798.55 L636.5 798.68 L636.9 798.79 L637.3 798.89 L637.7 798.98 L638.1 799.06 L638.5 799.12 L638.9 799.18 L639.3 799.24 L639.7 799.28 L640.1 799.33 L640.5 799.36 L640.9 799.4 L641.3 799.43 L641.7 799.46 L642.1 799.49" fill="none" stroke="#2f3e58" stroke-width="1.6" stroke-linejoin="round"/>
<text x="100.9" y="727.7" font-size="27.5" font-weight="bold" fill="#4a7d28" text-anchor="start" letter-spacing="0.3">6''''β</text>
<text x="204.5" y="719.9" font-size="27.5" font-weight="bold" fill="#2f3e58" text-anchor="start" letter-spacing="0.3">4''</text>
<text x="237.4" y="730.4" font-size="27.5" font-weight="bold" fill="#6a25a0" text-anchor="start" letter-spacing="0.3">2''</text>
<text x="241" y="695.6" font-size="27.5" font-weight="bold" fill="#4a7d28" text-anchor="start" letter-spacing="0.3">6''β</text>
<text x="269.7" y="665.2" font-size="27.5" font-weight="bold" fill="#4a7d28" text-anchor="start" letter-spacing="0.3">6''''α</text>
<text x="305.7" y="692.3" font-size="27.5" font-weight="bold" fill="#ec701f" text-anchor="start" letter-spacing="0.3">5''</text>
<text x="394.2" y="666.9" font-size="27.5" font-weight="bold" fill="#6a25a0" text-anchor="start" letter-spacing="0.3">2'''</text>
<text x="368.1" y="692.8" font-size="27.5" font-weight="bold" fill="#ec701f" text-anchor="start" letter-spacing="0.3">5''''</text>
<text x="417.1" y="692" font-size="27.5" font-weight="bold" fill="#ec701f" text-anchor="start" letter-spacing="0.3">5'''</text>
<text x="441.5" y="666.6" font-size="27.5" font-weight="bold" fill="#c20000" text-anchor="start" letter-spacing="0.3">3''''</text>
<text x="457.6" y="684.8" font-size="27.5" font-weight="bold" fill="#c20000" text-anchor="start" letter-spacing="0.3">3'''</text>
<text x="460.2" y="710.5" font-size="27.5" font-weight="bold" fill="#6a25a0" text-anchor="start" letter-spacing="0.3">2''''</text>
<text x="467.5" y="727.1" font-size="27.5" font-weight="bold" fill="#4a7d28" text-anchor="start" letter-spacing="0.3">6''α</text>
<text x="511.2" y="689" font-size="27.5" font-weight="bold" fill="#2f3e58" text-anchor="start" letter-spacing="0.3">4''''</text>
<text x="602.2" y="693.4" font-size="27.5" font-weight="bold" fill="#2f3e58" text-anchor="start" letter-spacing="0.3">4'''</text>
<text x="370.7" y="733.2" font-size="27.5" font-weight="bold" fill="#c20000" text-anchor="start" letter-spacing="0.3">3’’</text>
</svg>
</body></html>
